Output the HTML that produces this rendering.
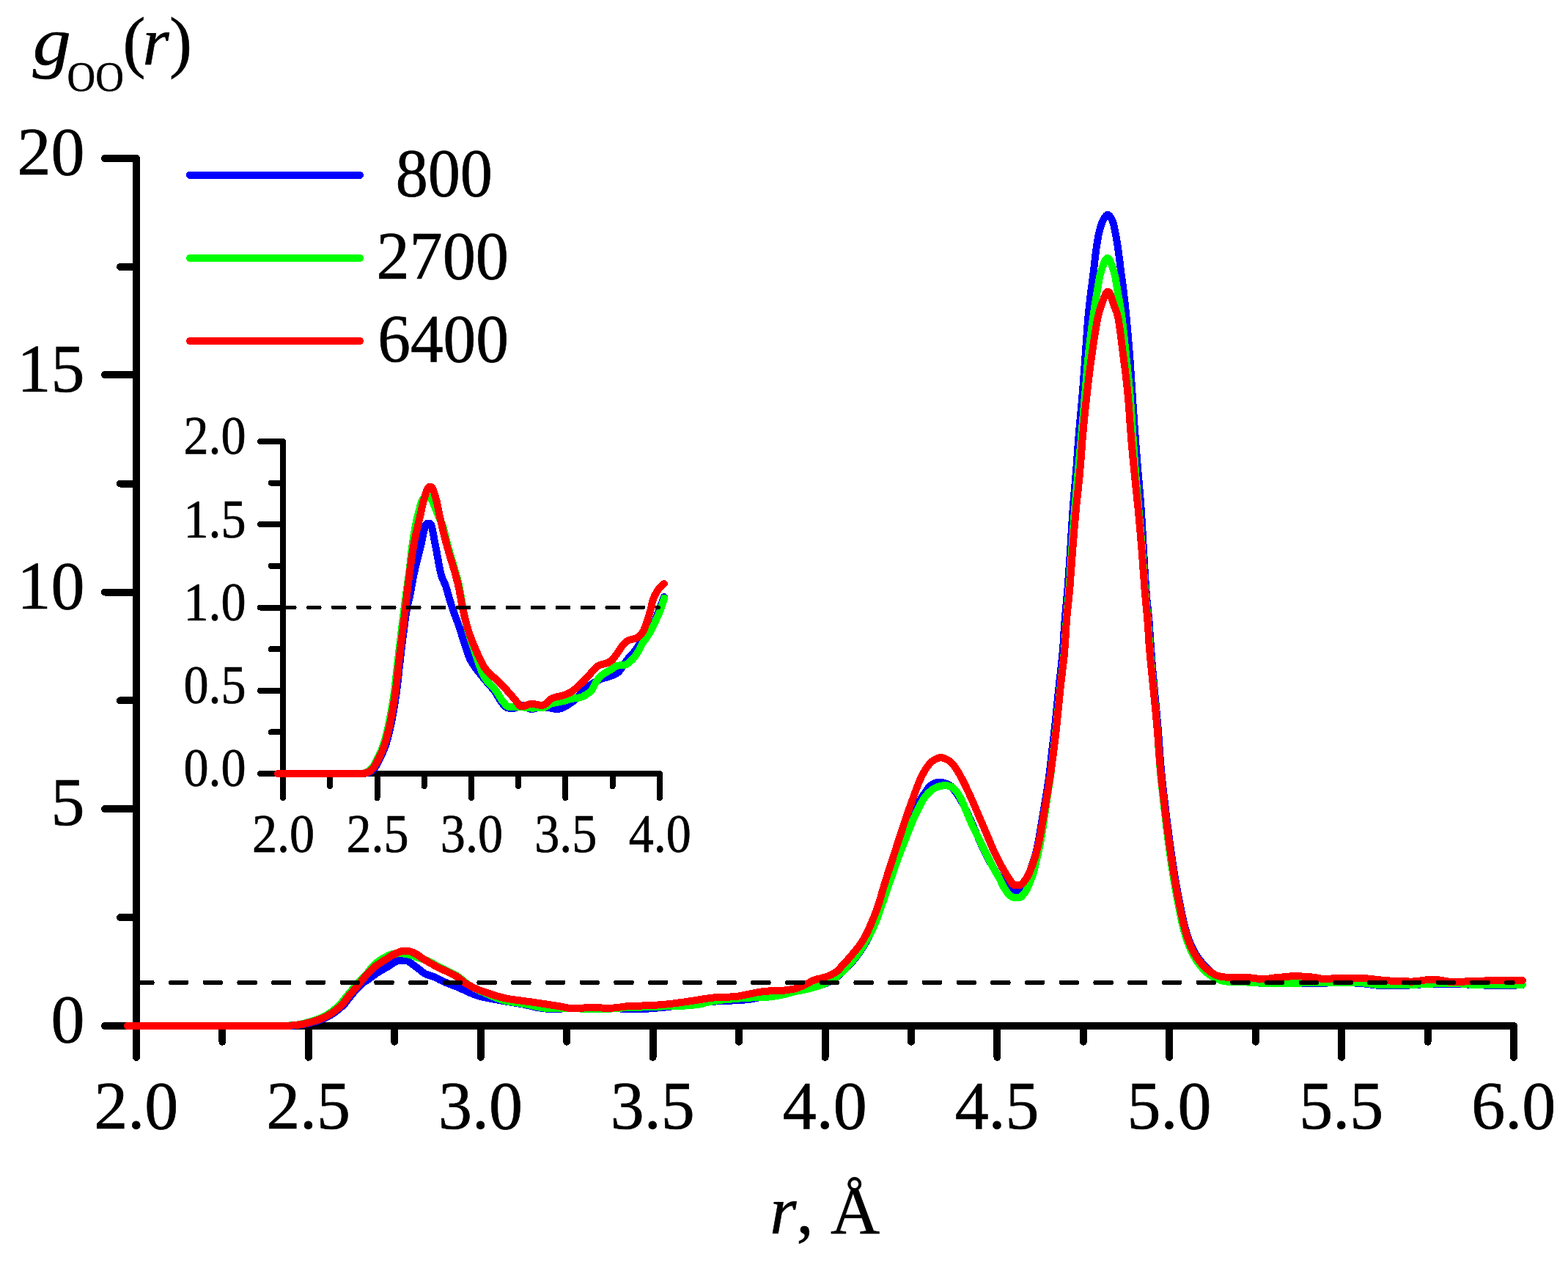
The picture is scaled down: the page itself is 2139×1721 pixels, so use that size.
<!DOCTYPE html>
<html lang="en"><head><meta charset="utf-8"><title>g_OO(r)</title>
<style>html,body{margin:0;padding:0;background:#fff;width:2139px;height:1721px;overflow:hidden}svg{display:block}text{font-family:'Liberation Serif', serif;fill:#000}.i{font-style:italic}</style></head><body>
<svg width="2139" height="1721" viewBox="0 0 2139 1721">
<rect width="2139" height="1721" fill="#fff"/>
<g stroke="#000" stroke-width="10" stroke-linecap="round" fill="none" shape-rendering="crispEdges">
<path d="M186 216 V1441.8"/>
<path d="M143 1399 H2065"/>
<path d="M164 1251.1 H186"/>
<path d="M143 1103.2 H186"/>
<path d="M164 955.4 H186"/>
<path d="M143 807.5 H186"/>
<path d="M164 659.6 H186"/>
<path d="M143 511 H186"/>
<path d="M164 363.9 H186"/>
<path d="M143 216 H186"/>
<path d="M303.4 1399 V1420.7"/>
<path d="M420.9 1399 V1441.8"/>
<path d="M538.3 1399 V1420.7"/>
<path d="M655.8 1399 V1441.8"/>
<path d="M773.2 1399 V1420.7"/>
<path d="M890.6 1399 V1441.8"/>
<path d="M1008.1 1399 V1420.7"/>
<path d="M1125.5 1399 V1441.8"/>
<path d="M1242.9 1399 V1420.7"/>
<path d="M1360.4 1399 V1441.8"/>
<path d="M1477.8 1399 V1420.7"/>
<path d="M1595.2 1399 V1441.8"/>
<path d="M1712.7 1399 V1420.7"/>
<path d="M1830.1 1399 V1441.8"/>
<path d="M1947.6 1399 V1420.7"/>
<path d="M2065 1399 V1441.8"/>
</g>
<g stroke="#000" stroke-width="8" stroke-linecap="round" fill="none" shape-rendering="crispEdges">
<path d="M386 602 V1088"/>
<path d="M355 1055 H899.8"/>
<path d="M369.8 998.4 H386"/>
<path d="M355 941.8 H386"/>
<path d="M369.8 885.1 H386"/>
<path d="M355 828.5 H386"/>
<path d="M369.8 771.9 H386"/>
<path d="M355 715.2 H386"/>
<path d="M369.8 658.6 H386"/>
<path d="M355 602 H386"/>
<path d="M450.2 1055 V1072"/>
<path d="M514.5 1055 V1088"/>
<path d="M578.7 1055 V1072"/>
<path d="M642.9 1055 V1088"/>
<path d="M707.1 1055 V1072"/>
<path d="M771.3 1055 V1088"/>
<path d="M835.6 1055 V1072"/>
<path d="M899.8 1055 V1088"/>
</g>
<g id="main-curves">
<path d="M174 1399 L175.5 1399 L177 1399 L178.5 1399 L180 1399 L181.5 1399 L183 1399 L184.5 1399 L186 1399 L187.5 1399 L189 1399 L190.5 1399 L192 1399 L193.5 1399 L195 1399 L196.5 1399 L198 1399 L199.5 1399 L201 1399 L202.5 1399 L204 1399 L205.5 1399 L207 1399 L208.5 1399 L210 1399 L211.5 1399 L213 1399 L214.5 1399 L216 1399 L217.5 1399 L219 1399 L220.5 1399 L222 1399 L223.5 1399 L225 1399 L226.5 1399 L228 1399 L229.5 1399 L231 1399 L232.5 1399 L234 1399 L235.5 1399 L237 1399 L238.5 1399 L240 1399 L241.5 1399 L243 1399 L244.5 1399 L246 1399 L247.5 1399 L249 1399 L250.5 1399 L252 1399 L253.5 1399 L255 1399 L256.5 1399 L258 1399 L259.5 1399 L261 1399 L262.5 1399 L264 1399 L265.5 1399 L267 1399 L268.5 1399 L270 1399 L271.5 1399 L273 1399 L274.5 1399 L276 1399 L277.5 1399 L279 1399 L280.5 1399 L282 1399 L283.5 1399 L285 1399 L286.5 1399 L288 1399 L289.5 1399 L291 1399 L292.5 1399 L294 1399 L295.5 1399 L297 1399 L298.5 1399 L300 1399 L301.5 1399 L303 1399 L304.5 1399 L306 1399 L307.5 1399 L309 1399 L310.5 1399 L312 1399 L313.5 1399 L315 1399 L316.5 1399 L318 1399 L319.5 1399 L321 1399 L322.5 1399 L324 1399 L325.5 1399 L327 1399 L328.5 1399 L330 1399 L331.5 1399 L333 1399 L334.5 1399 L336 1399 L337.5 1399 L339 1399 L340.5 1399 L342 1399 L343.5 1399 L345 1399 L346.5 1399 L348 1399 L349.5 1399 L351 1399 L352.5 1399 L354 1399 L355.5 1399 L357 1399 L358.5 1399 L360 1399 L361.5 1399 L363 1399 L364.5 1399 L366 1399 L367.5 1399 L369 1399 L370.5 1399 L372 1399 L373.5 1399 L375 1399 L376.5 1399 L378 1399 L379.5 1399 L381 1399 L382.5 1399 L384 1398.9 L385.5 1398.9 L387 1398.9 L388.5 1398.9 L390 1398.9 L391.5 1398.9 L393 1398.9 L394.5 1398.9 L396 1398.8 L397.5 1398.7 L399 1398.7 L400.5 1398.6 L402 1398.5 L403.5 1398.3 L405 1398.2 L406.5 1398.1 L408 1397.9 L409.5 1397.7 L411 1397.5 L412.5 1397.3 L414 1397.1 L415.5 1396.8 L417 1396.5 L418.5 1396.3 L420 1395.9 L421.5 1395.5 L423 1395.1 L424.5 1394.7 L426 1394.2 L427.5 1393.8 L429 1393.4 L430.5 1392.9 L432 1392.5 L433.5 1392 L435 1391.5 L436.5 1391 L438 1390.5 L439.5 1389.9 L441 1389.3 L442.5 1388.7 L444 1388 L445.5 1387.3 L447 1386.6 L448.5 1385.8 L450 1385 L451.5 1384.1 L453 1383.1 L454.5 1382.1 L456 1381.1 L457.5 1380.1 L459 1378.9 L460.5 1377.7 L462 1376.5 L463.5 1375.2 L465 1373.9 L466.5 1372.6 L468 1371.2 L469.5 1369.7 L471 1368 L472.5 1366.1 L474 1364.1 L475.5 1362.1 L477 1360.2 L478.5 1358.4 L480 1356.5 L481.5 1354.7 L483 1352.9 L484.5 1351.2 L486 1349.6 L487.5 1347.9 L489 1346.3 L490.5 1344.7 L492 1343.1 L493.5 1341.7 L495 1340.4 L496.5 1339.3 L498 1338.4 L499.5 1337.6 L501 1336.7 L502.5 1335.7 L504 1334.6 L505.5 1333.5 L507 1332.3 L508.5 1331.1 L510 1329.9 L511.5 1328.8 L513 1327.8 L514.5 1326.8 L516 1325.9 L517.5 1324.9 L519 1324 L520.5 1323.1 L522 1322.2 L523.5 1321.4 L525 1320.5 L526.5 1319.6 L528 1318.8 L529.5 1318 L531 1317.1 L532.5 1316.1 L534 1315.1 L535.5 1314 L537 1313 L538.5 1312 L540 1311.2 L541.5 1310.6 L543 1310.1 L544.5 1310 L546 1310 L547.5 1310 L549 1310 L550.5 1310 L552 1310 L553.5 1310 L555 1310.2 L556.5 1310.7 L558 1311.5 L559.5 1312.5 L561 1313.7 L562.5 1314.9 L564 1316.1 L565.5 1317.2 L567 1318.2 L568.5 1319.3 L570 1320.5 L571.5 1321.7 L573 1322.9 L574.5 1324.1 L576 1325.2 L577.5 1326.3 L579 1327.3 L580.5 1328.1 L582 1328.8 L583.5 1329.4 L585 1329.9 L586.5 1330.4 L588 1330.8 L589.5 1331.3 L591 1331.8 L592.5 1332.4 L594 1333.1 L595.5 1333.8 L597 1334.6 L598.5 1335.4 L600 1336.2 L601.5 1336.9 L603 1337.6 L604.5 1338.3 L606 1338.9 L607.5 1339.6 L609 1340.2 L610.5 1340.8 L612 1341.4 L613.5 1342 L615 1342.6 L616.5 1343.2 L618 1343.8 L619.5 1344.3 L621 1344.9 L622.5 1345.5 L624 1346.1 L625.5 1346.7 L627 1347.4 L628.5 1348 L630 1348.7 L631.5 1349.4 L633 1350.1 L634.5 1350.8 L636 1351.5 L637.5 1352.2 L639 1352.8 L640.5 1353.5 L642 1354.2 L643.5 1354.8 L645 1355.4 L646.5 1356 L648 1356.6 L649.5 1357.2 L651 1357.7 L652.5 1358.2 L654 1358.6 L655.5 1359 L657 1359.3 L658.5 1359.7 L660 1360 L661.5 1360.4 L663 1360.7 L664.5 1361 L666 1361.3 L667.5 1361.6 L669 1361.9 L670.5 1362.2 L672 1362.4 L673.5 1362.7 L675 1363 L676.5 1363.2 L678 1363.5 L679.5 1363.8 L681 1364 L682.5 1364.3 L684 1364.6 L685.5 1364.8 L687 1365.1 L688.5 1365.4 L690 1365.6 L691.5 1365.9 L693 1366.1 L694.5 1366.4 L696 1366.6 L697.5 1366.9 L699 1367.1 L700.5 1367.3 L702 1367.6 L703.5 1367.8 L705 1368.1 L706.5 1368.3 L708 1368.6 L709.5 1368.8 L711 1369.1 L712.5 1369.4 L714 1369.7 L715.5 1370 L717 1370.3 L718.5 1370.6 L720 1371 L721.5 1371.3 L723 1371.7 L724.5 1372.1 L726 1372.5 L727.5 1372.8 L729 1373.2 L730.5 1373.5 L732 1373.8 L733.5 1374 L735 1374.3 L736.5 1374.5 L738 1374.7 L739.5 1374.9 L741 1375.1 L742.5 1375.3 L744 1375.4 L745.5 1375.6 L747 1375.6 L748.5 1375.6 L750 1375.7 L751.5 1375.7 L753 1375.7 L754.5 1375.7 L756 1375.7 L757.5 1375.8 L759 1375.8 L760.5 1375.8 L762 1375.7 L763.5 1375.7 L765 1375.6 L766.5 1375.5 L768 1375.4 L769.5 1375.3 L771 1375.2 L772.5 1375.1 L774 1375 L775.5 1374.9 L777 1374.8 L778.5 1374.8 L780 1374.7 L781.5 1374.7 L783 1374.7 L784.5 1374.8 L786 1374.8 L787.5 1374.9 L789 1375 L790.5 1375.1 L792 1375.2 L793.5 1375.3 L795 1375.4 L796.5 1375.6 L798 1375.7 L799.5 1375.8 L801 1375.8 L802.5 1375.9 L804 1376 L805.5 1376 L807 1376 L808.5 1376 L810 1376 L811.5 1375.9 L813 1375.9 L814.5 1375.8 L816 1375.8 L817.5 1375.7 L819 1375.6 L820.5 1375.6 L822 1375.5 L823.5 1375.5 L825 1375.4 L826.5 1375.4 L828 1375.3 L829.5 1375.3 L831 1375.3 L832.5 1375.3 L834 1375.3 L835.5 1375.3 L837 1375.3 L838.5 1375.3 L840 1375.3 L841.5 1375.4 L843 1375.4 L844.5 1375.4 L846 1375.5 L847.5 1375.5 L849 1375.6 L850.5 1375.6 L852 1375.6 L853.5 1375.7 L855 1375.7 L856.5 1375.8 L858 1375.8 L859.5 1375.8 L861 1375.9 L862.5 1375.9 L864 1375.9 L865.5 1376 L867 1376 L868.5 1376 L870 1376 L871.5 1376 L873 1376 L874.5 1376 L876 1375.9 L877.5 1375.9 L879 1375.8 L880.5 1375.7 L882 1375.7 L883.5 1375.6 L885 1375.5 L886.5 1375.4 L888 1375.3 L889.5 1375.1 L891 1375 L892.5 1374.9 L894 1374.8 L895.5 1374.6 L897 1374.5 L898.5 1374.4 L900 1374.2 L901.5 1374.1 L903 1373.9 L904.5 1373.8 L906 1373.7 L907.5 1373.5 L909 1373.4 L910.5 1373.2 L912 1373 L913.5 1372.8 L915 1372.6 L916.5 1372.4 L918 1372.2 L919.5 1371.9 L921 1371.7 L922.5 1371.5 L924 1371.2 L925.5 1371 L927 1370.7 L928.5 1370.5 L930 1370.3 L931.5 1370.1 L933 1369.9 L934.5 1369.7 L936 1369.5 L937.5 1369.3 L939 1369.1 L940.5 1368.9 L942 1368.7 L943.5 1368.5 L945 1368.3 L946.5 1368.1 L948 1368 L949.5 1367.8 L951 1367.7 L952.5 1367.5 L954 1367.4 L955.5 1367.2 L957 1367.1 L958.5 1366.9 L960 1366.8 L961.5 1366.6 L963 1366.5 L964.5 1366.4 L966 1366.3 L967.5 1366.2 L969 1366 L970.5 1365.9 L972 1365.8 L973.5 1365.7 L975 1365.6 L976.5 1365.5 L978 1365.4 L979.5 1365.3 L981 1365.2 L982.5 1365.2 L984 1365.1 L985.5 1365 L987 1365 L988.5 1364.9 L990 1364.8 L991.5 1364.8 L993 1364.7 L994.5 1364.7 L996 1364.6 L997.5 1364.5 L999 1364.5 L1000.5 1364.4 L1002 1364.3 L1003.5 1364.3 L1005 1364.2 L1006.5 1364.1 L1008 1364 L1009.5 1363.9 L1011 1363.8 L1012.5 1363.7 L1014 1363.6 L1015.5 1363.5 L1017 1363.4 L1018.5 1363.3 L1020 1363.1 L1021.5 1363 L1023 1362.8 L1024.5 1362.6 L1026 1362.3 L1027.5 1362 L1029 1361.7 L1030.5 1361.4 L1032 1361.1 L1033.5 1360.8 L1035 1360.5 L1036.5 1360.2 L1038 1359.9 L1039.5 1359.6 L1041 1359.3 L1042.5 1358.9 L1044 1358.6 L1045.5 1358.3 L1047 1358 L1048.5 1357.8 L1050 1357.5 L1051.5 1357.3 L1053 1357.1 L1054.5 1356.8 L1056 1356.6 L1057.5 1356.4 L1059 1356.1 L1060.5 1355.9 L1062 1355.6 L1063.5 1355.3 L1065 1355.1 L1066.5 1354.7 L1068 1354.4 L1069.5 1354.1 L1071 1353.8 L1072.5 1353.5 L1074 1353.1 L1075.5 1352.8 L1077 1352.5 L1078.5 1352.2 L1080 1351.9 L1081.5 1351.7 L1083 1351.4 L1084.5 1351.1 L1086 1350.9 L1087.5 1350.6 L1089 1350.4 L1090.5 1350.1 L1092 1349.9 L1093.5 1349.6 L1095 1349.3 L1096.5 1349 L1098 1348.7 L1099.5 1348.4 L1101 1348 L1102.5 1347.6 L1104 1347.2 L1105.5 1346.8 L1107 1346.4 L1108.5 1346 L1110 1345.5 L1111.5 1345.1 L1113 1344.7 L1114.5 1344.3 L1116 1343.9 L1117.5 1343.5 L1119 1343.1 L1120.5 1342.7 L1122 1342.3 L1123.5 1341.9 L1125 1341.4 L1126.5 1340.9 L1128 1340.4 L1129.5 1339.8 L1131 1339.1 L1132.5 1338.3 L1134 1337.5 L1135.5 1336.6 L1137 1335.6 L1138.5 1334.6 L1140 1333.6 L1141.5 1332.5 L1143 1331.3 L1144.5 1330 L1146 1328.6 L1147.5 1327.2 L1149 1325.7 L1150.5 1324.3 L1152 1322.8 L1153.5 1321.3 L1155 1319.8 L1156.5 1318.3 L1158 1316.7 L1159.5 1315.1 L1161 1313.5 L1162.5 1311.8 L1164 1310 L1165.5 1308.2 L1167 1306.3 L1168.5 1304.3 L1170 1302.2 L1171.5 1300.1 L1173 1298 L1174.5 1295.7 L1176 1293.5 L1177.5 1291.2 L1179 1288.8 L1180.5 1286.3 L1182 1283.7 L1183.5 1280.9 L1185 1278.1 L1186.5 1275 L1188 1271.7 L1189.5 1268.4 L1191 1264.9 L1192.5 1261.2 L1194 1257.5 L1195.5 1253.6 L1197 1249.5 L1198.5 1245.3 L1200 1241 L1201.5 1236.6 L1203 1232.1 L1204.5 1227.4 L1206 1222.8 L1207.5 1218.3 L1209 1213.9 L1210.5 1209.6 L1212 1205.2 L1213.5 1200.9 L1215 1196.6 L1216.5 1192.2 L1218 1187.8 L1219.5 1183.3 L1221 1178.9 L1222.5 1174.6 L1224 1170.4 L1225.5 1166.3 L1227 1162.3 L1228.5 1158.4 L1230 1154.5 L1231.5 1150.6 L1233 1146.8 L1234.5 1142.9 L1236 1139 L1237.5 1135.1 L1239 1131.2 L1240.5 1127.3 L1242 1123.5 L1243.5 1119.8 L1245 1116.1 L1246.5 1112.5 L1248 1108.7 L1249.5 1104.8 L1251 1100.8 L1252.5 1096.9 L1254 1093.5 L1255.5 1090.7 L1257 1088.2 L1258.5 1086 L1260 1083.8 L1261.5 1081.7 L1263 1079.5 L1264.5 1077.2 L1266 1075.1 L1267.5 1073.2 L1269 1071.7 L1270.5 1070.7 L1272 1069.8 L1273.5 1069 L1275 1068.3 L1276.5 1067.6 L1278 1067.1 L1279.5 1066.7 L1281 1066.5 L1282.5 1066.5 L1284 1066.6 L1285.5 1066.9 L1287 1067.3 L1288.5 1067.7 L1290 1068.3 L1291.5 1068.9 L1293 1069.5 L1294.5 1070.3 L1296 1071.1 L1297.5 1072.3 L1299 1073.9 L1300.5 1075.8 L1302 1077.8 L1303.5 1079.9 L1305 1082 L1306.5 1084.1 L1308 1086.5 L1309.5 1088.9 L1311 1091.5 L1312.5 1094.2 L1314 1097 L1315.5 1099.9 L1317 1102.9 L1318.5 1106.1 L1320 1109.4 L1321.5 1112.7 L1323 1116 L1324.5 1119.4 L1326 1122.8 L1327.5 1126.3 L1329 1129.8 L1330.5 1133.3 L1332 1136.7 L1333.5 1140.1 L1335 1143.5 L1336.5 1146.9 L1338 1150.2 L1339.5 1153.5 L1341 1156.8 L1342.5 1159.9 L1344 1163 L1345.5 1166 L1347 1169 L1348.5 1171.8 L1350 1174.6 L1351.5 1177.4 L1353 1180 L1354.5 1182.6 L1356 1185 L1357.5 1187.5 L1359 1189.8 L1360.5 1192.1 L1362 1194.3 L1363.5 1196.4 L1365 1198.6 L1366.5 1200.6 L1368 1202.6 L1369.5 1204.4 L1371 1206 L1372.5 1207.4 L1374 1208.6 L1375.5 1209.8 L1377 1210.8 L1378.5 1211.7 L1380 1212.5 L1381.5 1213.2 L1383 1213.9 L1384.5 1214.3 L1386 1214.3 L1387.5 1214.3 L1389 1214.2 L1390.5 1212.9 L1392 1210.8 L1393.5 1208.9 L1395 1207.1 L1396.5 1205.2 L1398 1203.2 L1399.5 1200.9 L1401 1198.3 L1402.5 1195.1 L1404 1191.1 L1405.5 1186.8 L1407 1182.4 L1408.5 1178 L1410 1173.6 L1411.5 1168.8 L1413 1163.6 L1414.5 1157.5 L1416 1150.4 L1417.5 1142.5 L1419 1134 L1420.5 1124.7 L1422 1115.6 L1423.5 1106.5 L1425 1097.4 L1426.5 1088.1 L1428 1079.1 L1429.5 1069.9 L1431 1059.8 L1432.5 1047.6 L1434 1033.4 L1435.5 1020.5 L1437 1008.4 L1438.5 995.5 L1440 981.5 L1441.5 966.8 L1443 951.8 L1444.5 937.1 L1446 923.3 L1447.5 910.3 L1449 896 L1450.5 878.7 L1452 853.3 L1453.5 835 L1455 819.6 L1456.5 802 L1458 781.6 L1459.5 759.7 L1461 736.2 L1462.5 711.2 L1464 689.4 L1465.5 671.4 L1467 654.5 L1468.5 636.1 L1470 615.2 L1471.5 595.2 L1473 577.9 L1474.5 561.8 L1476 545.1 L1477.5 526.3 L1479 506 L1480.5 485.5 L1482 464.6 L1483.5 443.7 L1485 425.9 L1486.5 411.9 L1488 399.5 L1489.5 388 L1491 376.9 L1492.5 364.3 L1494 350.6 L1495.5 339.2 L1497 329.2 L1498.5 320.7 L1500 314.1 L1501.5 308.8 L1503 304.3 L1504.5 301 L1506 298.3 L1507.5 295.8 L1509 293.9 L1510.5 292.9 L1512 293.1 L1513.5 294.3 L1515 296.4 L1516.5 299 L1518 302.2 L1519.5 307.7 L1521 314.7 L1522.5 322.4 L1524 331.4 L1525.5 341.4 L1527 352.5 L1528.5 364.9 L1530 376.8 L1531.5 387.8 L1533 399.5 L1534.5 412.6 L1536 427 L1537.5 442.7 L1539 459.6 L1540.5 477.8 L1542 498 L1543.5 520.7 L1545 543.2 L1546.5 565.3 L1548 586.8 L1549.5 606.8 L1551 625.4 L1552.5 643.7 L1554 661.1 L1555.5 678.9 L1557 699 L1558.5 724.1 L1560 750.5 L1561.5 776.1 L1563 800.2 L1564.5 818.3 L1566 831.9 L1567.5 846.8 L1569 869.1 L1570.5 890.6 L1572 908.9 L1573.5 926 L1575 942.8 L1576.5 958.6 L1578 974.2 L1579.5 991 L1581 1010.8 L1582.5 1032.1 L1584 1050.5 L1585.5 1065.2 L1587 1078.5 L1588.5 1091.3 L1590 1103.8 L1591.5 1115.8 L1593 1127.7 L1594.5 1139.4 L1596 1150.7 L1597.5 1161.3 L1599 1171.7 L1600.5 1181.7 L1602 1191.2 L1603.5 1200.2 L1605 1208.8 L1606.5 1217.1 L1608 1225.1 L1609.5 1232.7 L1611 1240.1 L1612.5 1247.3 L1614 1254.1 L1615.5 1260.5 L1617 1266.1 L1618.5 1271.3 L1620 1276.1 L1621.5 1280.6 L1623 1284.6 L1624.5 1288.2 L1626 1291.5 L1627.5 1294.6 L1629 1297.5 L1630.5 1300.2 L1632 1302.7 L1633.5 1305 L1635 1307.1 L1636.5 1309 L1638 1310.9 L1639.5 1312.7 L1641 1314.4 L1642.5 1316.1 L1644 1317.7 L1645.5 1319.3 L1647 1320.9 L1648.5 1322.4 L1650 1323.8 L1651.5 1325.2 L1653 1326.5 L1654.5 1327.7 L1656 1328.9 L1657.5 1330.1 L1659 1331.1 L1660.5 1332.1 L1662 1333 L1663.5 1333.8 L1665 1334.7 L1666.5 1335.4 L1668 1336.2 L1669.5 1336.8 L1671 1337.3 L1672.5 1337.7 L1674 1337.9 L1675.5 1338.1 L1677 1338.2 L1678.5 1338.3 L1680 1338.4 L1681.5 1338.6 L1683 1338.6 L1684.5 1338.7 L1686 1338.8 L1687.5 1338.9 L1689 1339 L1690.5 1339 L1692 1339.1 L1693.5 1339.1 L1695 1339.2 L1696.5 1339.3 L1698 1339.3 L1699.5 1339.4 L1701 1339.5 L1702.5 1339.6 L1704 1339.7 L1705.5 1339.8 L1707 1339.9 L1708.5 1340 L1710 1340.1 L1711.5 1340.2 L1713 1340.3 L1714.5 1340.4 L1716 1340.4 L1717.5 1340.5 L1719 1340.6 L1720.5 1340.6 L1722 1340.6 L1723.5 1340.6 L1725 1340.6 L1726.5 1340.6 L1728 1340.6 L1729.5 1340.6 L1731 1340.6 L1732.5 1340.6 L1734 1340.6 L1735.5 1340.6 L1737 1340.6 L1738.5 1340.6 L1740 1340.6 L1741.5 1340.6 L1743 1340.6 L1744.5 1340.6 L1746 1340.6 L1747.5 1340.6 L1749 1340.6 L1750.5 1340.6 L1752 1340.6 L1753.5 1340.6 L1755 1340.6 L1756.5 1340.6 L1758 1340.6 L1759.5 1340.6 L1761 1340.6 L1762.5 1340.6 L1764 1340.6 L1765.5 1340.6 L1767 1340.6 L1768.5 1340.6 L1770 1340.6 L1771.5 1340.6 L1773 1340.6 L1774.5 1340.6 L1776 1340.6 L1777.5 1340.7 L1779 1340.7 L1780.5 1340.7 L1782 1340.7 L1783.5 1340.7 L1785 1340.7 L1786.5 1340.8 L1788 1340.8 L1789.5 1340.8 L1791 1340.8 L1792.5 1340.8 L1794 1340.8 L1795.5 1340.8 L1797 1340.8 L1798.5 1340.8 L1800 1340.8 L1801.5 1340.7 L1803 1340.7 L1804.5 1340.7 L1806 1340.6 L1807.5 1340.6 L1809 1340.5 L1810.5 1340.5 L1812 1340.4 L1813.5 1340.4 L1815 1340.3 L1816.5 1340.3 L1818 1340.2 L1819.5 1340.2 L1821 1340.1 L1822.5 1340.1 L1824 1340.1 L1825.5 1340 L1827 1340 L1828.5 1340 L1830 1340 L1831.5 1340 L1833 1340 L1834.5 1340 L1836 1340.1 L1837.5 1340.1 L1839 1340.1 L1840.5 1340.2 L1842 1340.2 L1843.5 1340.3 L1845 1340.4 L1846.5 1340.4 L1848 1340.5 L1849.5 1340.5 L1851 1340.6 L1852.5 1340.7 L1854 1340.8 L1855.5 1340.9 L1857 1341 L1858.5 1341.2 L1860 1341.3 L1861.5 1341.5 L1863 1341.7 L1864.5 1341.9 L1866 1342.1 L1867.5 1342.3 L1869 1342.5 L1870.5 1342.7 L1872 1342.9 L1873.5 1343.1 L1875 1343.3 L1876.5 1343.4 L1878 1343.6 L1879.5 1343.7 L1881 1343.9 L1882.5 1344 L1884 1344.1 L1885.5 1344.1 L1887 1344.2 L1888.5 1344.2 L1890 1344.2 L1891.5 1344.2 L1893 1344.2 L1894.5 1344.2 L1896 1344.2 L1897.5 1344.1 L1899 1344.1 L1900.5 1344.1 L1902 1344.1 L1903.5 1344 L1905 1344 L1906.5 1344 L1908 1343.9 L1909.5 1343.9 L1911 1343.9 L1912.5 1343.8 L1914 1343.8 L1915.5 1343.7 L1917 1343.7 L1918.5 1343.6 L1920 1343.6 L1921.5 1343.5 L1923 1343.5 L1924.5 1343.4 L1926 1343.4 L1927.5 1343.3 L1929 1343.3 L1930.5 1343.2 L1932 1343.1 L1933.5 1342.9 L1935 1342.8 L1936.5 1342.7 L1938 1342.5 L1939.5 1342.4 L1941 1342.2 L1942.5 1342.1 L1944 1342 L1945.5 1341.9 L1947 1341.8 L1948.5 1341.7 L1950 1341.6 L1951.5 1341.5 L1953 1341.5 L1954.5 1341.5 L1956 1341.5 L1957.5 1341.5 L1959 1341.5 L1960.5 1341.5 L1962 1341.5 L1963.5 1341.5 L1965 1341.5 L1966.5 1341.5 L1968 1341.5 L1969.5 1341.5 L1971 1341.5 L1972.5 1341.5 L1974 1341.6 L1975.5 1341.6 L1977 1341.6 L1978.5 1341.6 L1980 1341.6 L1981.5 1341.6 L1983 1341.6 L1984.5 1341.6 L1986 1341.7 L1987.5 1341.7 L1989 1341.8 L1990.5 1341.8 L1992 1341.9 L1993.5 1342 L1995 1342.1 L1996.5 1342.2 L1998 1342.3 L1999.5 1342.4 L2001 1342.5 L2002.5 1342.6 L2004 1342.7 L2005.5 1342.8 L2007 1342.9 L2008.5 1342.9 L2010 1343 L2011.5 1343.1 L2013 1343.2 L2014.5 1343.3 L2016 1343.3 L2017.5 1343.4 L2019 1343.4 L2020.5 1343.4 L2022 1343.4 L2023.5 1343.5 L2025 1343.5 L2026.5 1343.5 L2028 1343.5 L2029.5 1343.6 L2031 1343.6 L2032.5 1343.6 L2034 1343.6 L2035.5 1343.6 L2037 1343.7 L2038.5 1343.7 L2040 1343.7 L2041.5 1343.7 L2043 1343.7 L2044.5 1343.7 L2046 1343.8 L2047.5 1343.8 L2049 1343.8 L2050.5 1343.8 L2052 1343.8 L2053.5 1343.8 L2055 1343.8 L2056.5 1343.8 L2058 1343.8 L2059.5 1343.8 L2061 1343.8 L2062.5 1343.7 L2064 1343.7 L2065.5 1343.6 L2067 1343.5 L2068.5 1343.5 L2070 1343.4 L2071.5 1343.3 L2073 1343.2 L2074.5 1343.1 L2076 1343.1 L2076.9 1343" fill="none" stroke="#0000ff" stroke-width="10" stroke-linejoin="round" stroke-linecap="round" shape-rendering="crispEdges"/>
<path d="M174 1399 L175.5 1399 L177 1399 L178.5 1399 L180 1399 L181.5 1399 L183 1399 L184.5 1399 L186 1399 L187.5 1399 L189 1399 L190.5 1399 L192 1399 L193.5 1399 L195 1399 L196.5 1399 L198 1399 L199.5 1399 L201 1399 L202.5 1399 L204 1399 L205.5 1399 L207 1399 L208.5 1399 L210 1399 L211.5 1399 L213 1399 L214.5 1399 L216 1399 L217.5 1399 L219 1399 L220.5 1399 L222 1399 L223.5 1399 L225 1399 L226.5 1399 L228 1399 L229.5 1399 L231 1399 L232.5 1399 L234 1399 L235.5 1399 L237 1399 L238.5 1399 L240 1399 L241.5 1399 L243 1399 L244.5 1399 L246 1399 L247.5 1399 L249 1399 L250.5 1399 L252 1399 L253.5 1399 L255 1399 L256.5 1399 L258 1399 L259.5 1399 L261 1399 L262.5 1399 L264 1399 L265.5 1399 L267 1399 L268.5 1399 L270 1399 L271.5 1399 L273 1399 L274.5 1399 L276 1399 L277.5 1399 L279 1399 L280.5 1399 L282 1399 L283.5 1399 L285 1399 L286.5 1399 L288 1399 L289.5 1399 L291 1399 L292.5 1399 L294 1399 L295.5 1399 L297 1399 L298.5 1399 L300 1399 L301.5 1399 L303 1399 L304.5 1399 L306 1399 L307.5 1399 L309 1399 L310.5 1399 L312 1399 L313.5 1399 L315 1399 L316.5 1399 L318 1399 L319.5 1399 L321 1399 L322.5 1399 L324 1399 L325.5 1399 L327 1399 L328.5 1399 L330 1399 L331.5 1399 L333 1399 L334.5 1399 L336 1399 L337.5 1399 L339 1399 L340.5 1399 L342 1399 L343.5 1399 L345 1399 L346.5 1399 L348 1399 L349.5 1399 L351 1399 L352.5 1399 L354 1399 L355.5 1399 L357 1399 L358.5 1399 L360 1399 L361.5 1399 L363 1399 L364.5 1399 L366 1399 L367.5 1399 L369 1399 L370.5 1399 L372 1399 L373.5 1399 L375 1399 L376.5 1399 L378 1398.9 L379.5 1398.9 L381 1398.9 L382.5 1398.9 L384 1398.9 L385.5 1398.9 L387 1398.9 L388.5 1398.8 L390 1398.8 L391.5 1398.7 L393 1398.6 L394.5 1398.5 L396 1398.4 L397.5 1398.3 L399 1398.2 L400.5 1398.1 L402 1397.9 L403.5 1397.7 L405 1397.5 L406.5 1397.3 L408 1397 L409.5 1396.8 L411 1396.5 L412.5 1396.2 L414 1395.9 L415.5 1395.5 L417 1395.1 L418.5 1394.6 L420 1394.2 L421.5 1393.8 L423 1393.4 L424.5 1392.9 L426 1392.5 L427.5 1392 L429 1391.5 L430.5 1391 L432 1390.5 L433.5 1389.9 L435 1389.4 L436.5 1388.7 L438 1388.1 L439.5 1387.4 L441 1386.7 L442.5 1385.9 L444 1385.1 L445.5 1384.2 L447 1383.3 L448.5 1382.3 L450 1381.3 L451.5 1380.3 L453 1379.2 L454.5 1378.1 L456 1376.9 L457.5 1375.6 L459 1374.3 L460.5 1373 L462 1371.7 L463.5 1370.2 L465 1368.6 L466.5 1366.8 L468 1364.8 L469.5 1362.8 L471 1360.9 L472.5 1359 L474 1357.2 L475.5 1355.4 L477 1353.6 L478.5 1351.9 L480 1350.1 L481.5 1348.3 L483 1346.6 L484.5 1344.8 L486 1343.1 L487.5 1341.4 L489 1339.7 L490.5 1338 L492 1336.4 L493.5 1334.8 L495 1333.2 L496.5 1331.7 L498 1330.3 L499.5 1328.9 L501 1327.3 L502.5 1325.4 L504 1323.4 L505.5 1321.3 L507 1319.4 L508.5 1317.7 L510 1316.3 L511.5 1314.9 L513 1313.6 L514.5 1312.4 L516 1311.2 L517.5 1310.1 L519 1309.1 L520.5 1308.1 L522 1307.2 L523.5 1306.4 L525 1305.6 L526.5 1304.8 L528 1304 L529.5 1303 L531 1302.3 L532.5 1301.8 L534 1301.5 L535.5 1301.2 L537 1301 L538.5 1300.8 L540 1300.7 L541.5 1300.5 L543 1300.4 L544.5 1300.3 L546 1300.3 L547.5 1300.3 L549 1300.4 L550.5 1300.5 L552 1300.7 L553.5 1300.9 L555 1301.1 L556.5 1301.4 L558 1301.8 L559.5 1302.2 L561 1302.7 L562.5 1303.2 L564 1303.7 L565.5 1304.2 L567 1304.8 L568.5 1305.3 L570 1305.9 L571.5 1306.4 L573 1307 L574.5 1307.5 L576 1308 L577.5 1308.4 L579 1308.8 L580.5 1309.2 L582 1309.7 L583.5 1310.2 L585 1310.9 L586.5 1311.6 L588 1312.5 L589.5 1313.4 L591 1314.3 L592.5 1315.2 L594 1316.1 L595.5 1317 L597 1317.8 L598.5 1318.5 L600 1319.3 L601.5 1320 L603 1320.7 L604.5 1321.5 L606 1322.2 L607.5 1322.9 L609 1323.6 L610.5 1324.3 L612 1325.1 L613.5 1325.8 L615 1326.5 L616.5 1327.3 L618 1328.1 L619.5 1328.9 L621 1329.7 L622.5 1330.5 L624 1331.3 L625.5 1332.2 L627 1333.3 L628.5 1334.5 L630 1335.9 L631.5 1337.2 L633 1338.5 L634.5 1339.7 L636 1340.8 L637.5 1341.8 L639 1342.9 L640.5 1343.9 L642 1344.8 L643.5 1345.7 L645 1346.6 L646.5 1347.4 L648 1348.2 L649.5 1348.9 L651 1349.6 L652.5 1350.3 L654 1351 L655.5 1351.7 L657 1352.3 L658.5 1352.9 L660 1353.6 L661.5 1354.2 L663 1354.8 L664.5 1355.5 L666 1356.1 L667.5 1356.8 L669 1357.4 L670.5 1358.1 L672 1358.7 L673.5 1359.4 L675 1360 L676.5 1360.6 L678 1361.2 L679.5 1361.8 L681 1362.3 L682.5 1362.8 L684 1363.3 L685.5 1363.8 L687 1364.2 L688.5 1364.6 L690 1364.9 L691.5 1365.3 L693 1365.6 L694.5 1365.8 L696 1366.1 L697.5 1366.4 L699 1366.6 L700.5 1366.8 L702 1367.1 L703.5 1367.3 L705 1367.5 L706.5 1367.7 L708 1367.9 L709.5 1368.2 L711 1368.4 L712.5 1368.6 L714 1368.9 L715.5 1369.1 L717 1369.4 L718.5 1369.7 L720 1370 L721.5 1370.4 L723 1370.7 L724.5 1371.1 L726 1371.4 L727.5 1371.8 L729 1372.1 L730.5 1372.5 L732 1372.8 L733.5 1373.1 L735 1373.4 L736.5 1373.6 L738 1373.9 L739.5 1374.1 L741 1374.3 L742.5 1374.6 L744 1374.8 L745.5 1375 L747 1375.1 L748.5 1375.2 L750 1375.3 L751.5 1375.3 L753 1375.3 L754.5 1375.3 L756 1375.3 L757.5 1375.3 L759 1375.3 L760.5 1375.3 L762 1375.3 L763.5 1375.3 L765 1375.3 L766.5 1375.3 L768 1375.3 L769.5 1375.3 L771 1375.3 L772.5 1375.3 L774 1375.3 L775.5 1375.3 L777 1375.3 L778.5 1375.3 L780 1375.3 L781.5 1375.3 L783 1375.3 L784.5 1375.4 L786 1375.4 L787.5 1375.4 L789 1375.4 L790.5 1375.5 L792 1375.5 L793.5 1375.5 L795 1375.5 L796.5 1375.5 L798 1375.6 L799.5 1375.6 L801 1375.6 L802.5 1375.6 L804 1375.6 L805.5 1375.6 L807 1375.6 L808.5 1375.6 L810 1375.6 L811.5 1375.6 L813 1375.6 L814.5 1375.6 L816 1375.6 L817.5 1375.6 L819 1375.6 L820.5 1375.6 L822 1375.6 L823.5 1375.6 L825 1375.6 L826.5 1375.5 L828 1375.5 L829.5 1375.5 L831 1375.5 L832.5 1375.5 L834 1375.5 L835.5 1375.4 L837 1375.4 L838.5 1375.3 L840 1375.2 L841.5 1375.1 L843 1375 L844.5 1374.9 L846 1374.8 L847.5 1374.7 L849 1374.5 L850.5 1374.4 L852 1374.3 L853.5 1374.2 L855 1374.1 L856.5 1374 L858 1374 L859.5 1373.9 L861 1373.9 L862.5 1373.8 L864 1373.8 L865.5 1373.7 L867 1373.7 L868.5 1373.6 L870 1373.6 L871.5 1373.6 L873 1373.5 L874.5 1373.5 L876 1373.5 L877.5 1373.4 L879 1373.4 L880.5 1373.3 L882 1373.3 L883.5 1373.3 L885 1373.2 L886.5 1373.1 L888 1373.1 L889.5 1373 L891 1373 L892.5 1372.9 L894 1372.8 L895.5 1372.8 L897 1372.7 L898.5 1372.7 L900 1372.6 L901.5 1372.5 L903 1372.5 L904.5 1372.4 L906 1372.4 L907.5 1372.3 L909 1372.3 L910.5 1372.3 L912 1372.2 L913.5 1372.2 L915 1372.2 L916.5 1372.1 L918 1372.1 L919.5 1372.1 L921 1372 L922.5 1372 L924 1372 L925.5 1371.9 L927 1371.9 L928.5 1371.8 L930 1371.8 L931.5 1371.7 L933 1371.6 L934.5 1371.5 L936 1371.4 L937.5 1371.3 L939 1371.1 L940.5 1371 L942 1370.9 L943.5 1370.8 L945 1370.6 L946.5 1370.5 L948 1370.3 L949.5 1370.2 L951 1370 L952.5 1369.8 L954 1369.6 L955.5 1369.4 L957 1369.1 L958.5 1368.7 L960 1368.3 L961.5 1367.8 L963 1367.4 L964.5 1367 L966 1366.7 L967.5 1366.3 L969 1366 L970.5 1365.7 L972 1365.4 L973.5 1365.1 L975 1364.8 L976.5 1364.6 L978 1364.4 L979.5 1364.2 L981 1364 L982.5 1363.9 L984 1363.7 L985.5 1363.5 L987 1363.4 L988.5 1363.3 L990 1363.1 L991.5 1363 L993 1362.9 L994.5 1362.7 L996 1362.6 L997.5 1362.5 L999 1362.4 L1000.5 1362.2 L1002 1362.1 L1003.5 1362 L1005 1361.8 L1006.5 1361.7 L1008 1361.6 L1009.5 1361.4 L1011 1361.3 L1012.5 1361.1 L1014 1361 L1015.5 1360.8 L1017 1360.7 L1018.5 1360.6 L1020 1360.6 L1021.5 1360.5 L1023 1360.5 L1024.5 1360.5 L1026 1360.4 L1027.5 1360.4 L1029 1360.4 L1030.5 1360.4 L1032 1360.4 L1033.5 1360.4 L1035 1360.4 L1036.5 1360.4 L1038 1360.3 L1039.5 1360.3 L1041 1360.2 L1042.5 1360.1 L1044 1360 L1045.5 1359.8 L1047 1359.6 L1048.5 1359.5 L1050 1359.3 L1051.5 1359.1 L1053 1358.9 L1054.5 1358.8 L1056 1358.6 L1057.5 1358.4 L1059 1358.1 L1060.5 1357.9 L1062 1357.6 L1063.5 1357.4 L1065 1357.1 L1066.5 1356.8 L1068 1356.5 L1069.5 1356.2 L1071 1355.8 L1072.5 1355.4 L1074 1355 L1075.5 1354.6 L1077 1354.1 L1078.5 1353.7 L1080 1353.3 L1081.5 1352.9 L1083 1352.6 L1084.5 1352.2 L1086 1351.9 L1087.5 1351.6 L1089 1351.3 L1090.5 1351 L1092 1350.8 L1093.5 1350.5 L1095 1350.2 L1096.5 1349.9 L1098 1349.6 L1099.5 1349.2 L1101 1348.9 L1102.5 1348.5 L1104 1348.1 L1105.5 1347.7 L1107 1347.3 L1108.5 1346.9 L1110 1346.4 L1111.5 1346 L1113 1345.5 L1114.5 1345 L1116 1344.5 L1117.5 1344 L1119 1343.5 L1120.5 1343 L1122 1342.4 L1123.5 1341.8 L1125 1341.2 L1126.5 1340.6 L1128 1339.9 L1129.5 1339.2 L1131 1338.5 L1132.5 1337.7 L1134 1336.9 L1135.5 1336 L1137 1335 L1138.5 1334 L1140 1333 L1141.5 1331.9 L1143 1330.6 L1144.5 1329.3 L1146 1327.9 L1147.5 1326.5 L1149 1325 L1150.5 1323.5 L1152 1322 L1153.5 1320.5 L1155 1319 L1156.5 1317.4 L1158 1315.8 L1159.5 1314.2 L1161 1312.5 L1162.5 1310.8 L1164 1309 L1165.5 1307.2 L1167 1305.2 L1168.5 1303.3 L1170 1301.2 L1171.5 1299.1 L1173 1297 L1174.5 1294.7 L1176 1292.5 L1177.5 1290.1 L1179 1287.7 L1180.5 1285.2 L1182 1282.6 L1183.5 1279.9 L1185 1277.2 L1186.5 1274.4 L1188 1271.6 L1189.5 1268.7 L1191 1265.7 L1192.5 1262.5 L1194 1259.1 L1195.5 1255.3 L1197 1251.3 L1198.5 1247.1 L1200 1242.8 L1201.5 1238.6 L1203 1234.2 L1204.5 1229.8 L1206 1225.3 L1207.5 1220.8 L1209 1216.4 L1210.5 1212.1 L1212 1207.8 L1213.5 1203.5 L1215 1199.3 L1216.5 1195 L1218 1190.7 L1219.5 1186.3 L1221 1182 L1222.5 1177.7 L1224 1173.5 L1225.5 1169.3 L1227 1165.3 L1228.5 1161.4 L1230 1157.6 L1231.5 1153.8 L1233 1150.1 L1234.5 1146.3 L1236 1142.4 L1237.5 1138.5 L1239 1134.6 L1240.5 1130.7 L1242 1126.8 L1243.5 1123.1 L1245 1119.5 L1246.5 1116.1 L1248 1112.8 L1249.5 1109.6 L1251 1106.5 L1252.5 1103.5 L1254 1100.4 L1255.5 1097.5 L1257 1094.6 L1258.5 1092 L1260 1089.6 L1261.5 1087.4 L1263 1085.4 L1264.5 1083.6 L1266 1082 L1267.5 1080.5 L1269 1079.2 L1270.5 1078 L1272 1076.8 L1273.5 1075.8 L1275 1075 L1276.5 1074.3 L1278 1073.6 L1279.5 1073 L1281 1072.5 L1282.5 1072.1 L1284 1071.8 L1285.5 1071.6 L1287 1071.3 L1288.5 1071.2 L1290 1071.1 L1291.5 1071.2 L1293 1071.4 L1294.5 1071.9 L1296 1072.4 L1297.5 1073 L1299 1073.7 L1300.5 1074.8 L1302 1076.2 L1303.5 1077.8 L1305 1079.5 L1306.5 1081.6 L1308 1084 L1309.5 1086.7 L1311 1089.5 L1312.5 1092.6 L1314 1096.1 L1315.5 1099.8 L1317 1103.5 L1318.5 1107.1 L1320 1110.6 L1321.5 1114.2 L1323 1117.7 L1324.5 1121.2 L1326 1124.7 L1327.5 1127.9 L1329 1131.1 L1330.5 1134.2 L1332 1137.2 L1333.5 1140.3 L1335 1143.3 L1336.5 1146.3 L1338 1149.3 L1339.5 1152.4 L1341 1155.4 L1342.5 1158.5 L1344 1161.5 L1345.5 1164.5 L1347 1167.5 L1348.5 1170.5 L1350 1173.5 L1351.5 1176.6 L1353 1179.6 L1354.5 1182.5 L1356 1185.2 L1357.5 1187.8 L1359 1190.3 L1360.5 1192.7 L1362 1195.3 L1363.5 1198.1 L1365 1201.2 L1366.5 1204.5 L1368 1207.6 L1369.5 1210.4 L1371 1212.7 L1372.5 1214.9 L1374 1217 L1375.5 1218.9 L1377 1220.5 L1378.5 1221.7 L1380 1222.7 L1381.5 1223.5 L1383 1223.9 L1384.5 1223.9 L1386 1223.9 L1387.5 1223.9 L1389 1223.9 L1390.5 1223.9 L1392 1223.7 L1393.5 1222.6 L1395 1221 L1396.5 1219.1 L1398 1217.3 L1399.5 1215.1 L1401 1212.5 L1402.5 1209.2 L1404 1205.6 L1405.5 1201.9 L1407 1198.2 L1408.5 1194 L1410 1189.2 L1411.5 1183.4 L1413 1177 L1414.5 1170.6 L1416 1164.2 L1417.5 1157.4 L1419 1150.1 L1420.5 1142 L1422 1132.7 L1423.5 1122.6 L1425 1112.3 L1426.5 1101.7 L1428 1091.2 L1429.5 1081.4 L1431 1071.9 L1432.5 1061.9 L1434 1050.6 L1435.5 1037.5 L1437 1024.7 L1438.5 1012.6 L1440 1000 L1441.5 986.2 L1443 971.6 L1444.5 956.7 L1446 941.9 L1447.5 928 L1449 915.6 L1450.5 902.7 L1452 887.3 L1453.5 864.5 L1455 841.3 L1456.5 825 L1458 808.3 L1459.5 788.1 L1461 766.5 L1462.5 745.1 L1464 723.4 L1465.5 702.5 L1467 684 L1468.5 667.1 L1470 650.9 L1471.5 634.5 L1473 618.3 L1474.5 601.9 L1476 585.1 L1477.5 568 L1479 550.6 L1480.5 533.3 L1482 515.3 L1483.5 497.7 L1485 482.3 L1486.5 468.8 L1488 456.3 L1489.5 444.6 L1491 433.7 L1492.5 423.2 L1494 413.5 L1495.5 404.4 L1497 395.5 L1498.5 386.3 L1500 378 L1501.5 371.9 L1503 367.2 L1504.5 362.7 L1506 358.7 L1507.5 355.5 L1509 353.1 L1510.5 352 L1512 352.3 L1513.5 354.1 L1515 357.1 L1516.5 361.1 L1518 365.6 L1519.5 370.5 L1521 376.2 L1522.5 384.1 L1524 393.2 L1525.5 402 L1527 410.5 L1528.5 419.4 L1530 429.4 L1531.5 441.4 L1533 454.7 L1534.5 468.9 L1536 483.3 L1537.5 497.3 L1539 511.5 L1540.5 526.7 L1542 544 L1543.5 565 L1545 587.7 L1546.5 609.4 L1548 630.7 L1549.5 649.8 L1551 667 L1552.5 683.6 L1554 700.8 L1555.5 718.2 L1557 736.1 L1558.5 754.8 L1560 775.6 L1561.5 796.7 L1563 815.1 L1564.5 830.4 L1566 846.6 L1567.5 869.4 L1569 890 L1570.5 906.5 L1572 921.6 L1573.5 937.2 L1575 952.9 L1576.5 968.4 L1578 985 L1579.5 1004.3 L1581 1026.7 L1582.5 1047.1 L1584 1063 L1585.5 1077 L1587 1090.4 L1588.5 1103.8 L1590 1116.7 L1591.5 1129.2 L1593 1141.3 L1594.5 1152.8 L1596 1163.8 L1597.5 1174.5 L1599 1184.6 L1600.5 1194.2 L1602 1203.3 L1603.5 1212 L1605 1220.4 L1606.5 1228.4 L1608 1236.2 L1609.5 1243.8 L1611 1251.1 L1612.5 1258 L1614 1264.3 L1615.5 1270 L1617 1275.3 L1618.5 1280.1 L1620 1284.5 L1621.5 1288.4 L1623 1292.1 L1624.5 1295.6 L1626 1298.8 L1627.5 1301.8 L1629 1304.5 L1630.5 1307 L1632 1309.4 L1633.5 1311.7 L1635 1313.8 L1636.5 1315.8 L1638 1317.6 L1639.5 1319.4 L1641 1321.1 L1642.5 1322.7 L1644 1324.2 L1645.5 1325.7 L1647 1327 L1648.5 1328.2 L1650 1329.4 L1651.5 1330.4 L1653 1331.4 L1654.5 1332.3 L1656 1333.2 L1657.5 1333.9 L1659 1334.6 L1660.5 1335.2 L1662 1335.7 L1663.5 1336.3 L1665 1336.8 L1666.5 1337.2 L1668 1337.6 L1669.5 1338 L1671 1338.2 L1672.5 1338.4 L1674 1338.6 L1675.5 1338.6 L1677 1338.7 L1678.5 1338.8 L1680 1338.9 L1681.5 1338.9 L1683 1339 L1684.5 1339 L1686 1339.1 L1687.5 1339.1 L1689 1339.1 L1690.5 1339.2 L1692 1339.2 L1693.5 1339.2 L1695 1339.3 L1696.5 1339.3 L1698 1339.4 L1699.5 1339.4 L1701 1339.5 L1702.5 1339.6 L1704 1339.6 L1705.5 1339.7 L1707 1339.8 L1708.5 1339.9 L1710 1340 L1711.5 1340.1 L1713 1340.2 L1714.5 1340.3 L1716 1340.4 L1717.5 1340.5 L1719 1340.5 L1720.5 1340.6 L1722 1340.6 L1723.5 1340.6 L1725 1340.6 L1726.5 1340.6 L1728 1340.6 L1729.5 1340.6 L1731 1340.6 L1732.5 1340.6 L1734 1340.6 L1735.5 1340.6 L1737 1340.6 L1738.5 1340.6 L1740 1340.6 L1741.5 1340.6 L1743 1340.6 L1744.5 1340.6 L1746 1340.6 L1747.5 1340.6 L1749 1340.6 L1750.5 1340.6 L1752 1340.6 L1753.5 1340.6 L1755 1340.6 L1756.5 1340.6 L1758 1340.6 L1759.5 1340.6 L1761 1340.6 L1762.5 1340.6 L1764 1340.6 L1765.5 1340.6 L1767 1340.6 L1768.5 1340.6 L1770 1340.6 L1771.5 1340.6 L1773 1340.5 L1774.5 1340.5 L1776 1340.5 L1777.5 1340.4 L1779 1340.4 L1780.5 1340.3 L1782 1340.3 L1783.5 1340.2 L1785 1340.2 L1786.5 1340.1 L1788 1340.1 L1789.5 1340.1 L1791 1340 L1792.5 1340 L1794 1340 L1795.5 1340 L1797 1340 L1798.5 1340 L1800 1340 L1801.5 1340 L1803 1340 L1804.5 1340 L1806 1340 L1807.5 1340 L1809 1340 L1810.5 1340 L1812 1340 L1813.5 1340 L1815 1340 L1816.5 1340 L1818 1340 L1819.5 1340 L1821 1340 L1822.5 1340 L1824 1340 L1825.5 1340 L1827 1340 L1828.5 1340 L1830 1340 L1831.5 1340 L1833 1340 L1834.5 1340 L1836 1340 L1837.5 1340 L1839 1340 L1840.5 1340 L1842 1340 L1843.5 1340 L1845 1340 L1846.5 1340 L1848 1340 L1849.5 1340 L1851 1340 L1852.5 1340 L1854 1340.1 L1855.5 1340.1 L1857 1340.2 L1858.5 1340.4 L1860 1340.5 L1861.5 1340.6 L1863 1340.8 L1864.5 1341 L1866 1341.2 L1867.5 1341.4 L1869 1341.6 L1870.5 1341.8 L1872 1342 L1873.5 1342.2 L1875 1342.4 L1876.5 1342.6 L1878 1342.7 L1879.5 1342.9 L1881 1343 L1882.5 1343.2 L1884 1343.3 L1885.5 1343.3 L1887 1343.4 L1888.5 1343.4 L1890 1343.4 L1891.5 1343.4 L1893 1343.4 L1894.5 1343.4 L1896 1343.4 L1897.5 1343.4 L1899 1343.3 L1900.5 1343.3 L1902 1343.3 L1903.5 1343.3 L1905 1343.3 L1906.5 1343.2 L1908 1343.2 L1909.5 1343.2 L1911 1343.1 L1912.5 1343.1 L1914 1343.1 L1915.5 1343 L1917 1343 L1918.5 1343 L1920 1342.9 L1921.5 1342.9 L1923 1342.9 L1924.5 1342.8 L1926 1342.8 L1927.5 1342.8 L1929 1342.7 L1930.5 1342.6 L1932 1342.6 L1933.5 1342.5 L1935 1342.4 L1936.5 1342.4 L1938 1342.3 L1939.5 1342.2 L1941 1342.1 L1942.5 1342 L1944 1341.9 L1945.5 1341.8 L1947 1341.8 L1948.5 1341.7 L1950 1341.6 L1951.5 1341.6 L1953 1341.5 L1954.5 1341.5 L1956 1341.4 L1957.5 1341.4 L1959 1341.4 L1960.5 1341.3 L1962 1341.3 L1963.5 1341.3 L1965 1341.2 L1966.5 1341.2 L1968 1341.2 L1969.5 1341.1 L1971 1341.1 L1972.5 1341.1 L1974 1341.1 L1975.5 1341 L1977 1341 L1978.5 1341 L1980 1341 L1981.5 1341 L1983 1341 L1984.5 1341 L1986 1341.1 L1987.5 1341.1 L1989 1341.2 L1990.5 1341.3 L1992 1341.4 L1993.5 1341.5 L1995 1341.7 L1996.5 1341.8 L1998 1341.9 L1999.5 1342.1 L2001 1342.2 L2002.5 1342.4 L2004 1342.5 L2005.5 1342.6 L2007 1342.8 L2008.5 1342.9 L2010 1343 L2011.5 1343.1 L2013 1343.2 L2014.5 1343.3 L2016 1343.3 L2017.5 1343.4 L2019 1343.4 L2020.5 1343.4 L2022 1343.4 L2023.5 1343.4 L2025 1343.4 L2026.5 1343.4 L2028 1343.4 L2029.5 1343.3 L2031 1343.3 L2032.5 1343.3 L2034 1343.3 L2035.5 1343.3 L2037 1343.3 L2038.5 1343.2 L2040 1343.2 L2041.5 1343.2 L2043 1343.2 L2044.5 1343.2 L2046 1343.1 L2047.5 1343.1 L2049 1343.1 L2050.5 1343.1 L2052 1343.1 L2053.5 1343 L2055 1343 L2056.5 1343 L2058 1343 L2059.5 1343 L2061 1343 L2062.5 1342.9 L2064 1342.9 L2065.5 1342.9 L2067 1342.9 L2068.5 1342.9 L2070 1342.9 L2071.5 1342.9 L2073 1342.8 L2074.5 1342.8 L2076 1342.8 L2076.9 1342.8" fill="none" stroke="#00ff00" stroke-width="10" stroke-linejoin="round" stroke-linecap="round" shape-rendering="crispEdges"/>
<path d="M174 1399 L175.5 1399 L177 1399 L178.5 1399 L180 1399 L181.5 1399 L183 1399 L184.5 1399 L186 1399 L187.5 1399 L189 1399 L190.5 1399 L192 1399 L193.5 1399 L195 1399 L196.5 1399 L198 1399 L199.5 1399 L201 1399 L202.5 1399 L204 1399 L205.5 1399 L207 1399 L208.5 1399 L210 1399 L211.5 1399 L213 1399 L214.5 1399 L216 1399 L217.5 1399 L219 1399 L220.5 1399 L222 1399 L223.5 1399 L225 1399 L226.5 1399 L228 1399 L229.5 1399 L231 1399 L232.5 1399 L234 1399 L235.5 1399 L237 1399 L238.5 1399 L240 1399 L241.5 1399 L243 1399 L244.5 1399 L246 1399 L247.5 1399 L249 1399 L250.5 1399 L252 1399 L253.5 1399 L255 1399 L256.5 1399 L258 1399 L259.5 1399 L261 1399 L262.5 1399 L264 1399 L265.5 1399 L267 1399 L268.5 1399 L270 1399 L271.5 1399 L273 1399 L274.5 1399 L276 1399 L277.5 1399 L279 1399 L280.5 1399 L282 1399 L283.5 1399 L285 1399 L286.5 1399 L288 1399 L289.5 1399 L291 1399 L292.5 1399 L294 1399 L295.5 1399 L297 1399 L298.5 1399 L300 1399 L301.5 1399 L303 1399 L304.5 1399 L306 1399 L307.5 1399 L309 1399 L310.5 1399 L312 1399 L313.5 1399 L315 1399 L316.5 1399 L318 1399 L319.5 1399 L321 1399 L322.5 1399 L324 1399 L325.5 1399 L327 1399 L328.5 1399 L330 1399 L331.5 1399 L333 1399 L334.5 1399 L336 1399 L337.5 1399 L339 1399 L340.5 1399 L342 1399 L343.5 1399 L345 1399 L346.5 1399 L348 1399 L349.5 1399 L351 1399 L352.5 1399 L354 1399 L355.5 1399 L357 1399 L358.5 1399 L360 1399 L361.5 1399 L363 1399 L364.5 1399 L366 1399 L367.5 1399 L369 1399 L370.5 1399 L372 1399 L373.5 1399 L375 1399 L376.5 1399 L378 1399 L379.5 1399 L381 1398.9 L382.5 1398.9 L384 1398.9 L385.5 1398.9 L387 1398.9 L388.5 1398.9 L390 1398.9 L391.5 1398.8 L393 1398.8 L394.5 1398.7 L396 1398.6 L397.5 1398.5 L399 1398.4 L400.5 1398.3 L402 1398.2 L403.5 1398 L405 1397.9 L406.5 1397.7 L408 1397.5 L409.5 1397.2 L411 1397 L412.5 1396.7 L414 1396.5 L415.5 1396.2 L417 1395.8 L418.5 1395.4 L420 1395 L421.5 1394.6 L423 1394.1 L424.5 1393.7 L426 1393.3 L427.5 1392.8 L429 1392.4 L430.5 1391.9 L432 1391.4 L433.5 1390.9 L435 1390.4 L436.5 1389.9 L438 1389.3 L439.5 1388.6 L441 1388 L442.5 1387.3 L444 1386.5 L445.5 1385.8 L447 1384.9 L448.5 1384.1 L450 1383.1 L451.5 1382.2 L453 1381.2 L454.5 1380.1 L456 1379 L457.5 1377.9 L459 1376.7 L460.5 1375.4 L462 1374.1 L463.5 1372.8 L465 1371.4 L466.5 1369.9 L468 1368.3 L469.5 1366.4 L471 1364.4 L472.5 1362.4 L474 1360.6 L475.5 1358.7 L477 1356.9 L478.5 1355.1 L480 1353.3 L481.5 1351.6 L483 1349.8 L484.5 1348.1 L486 1346.4 L487.5 1344.7 L489 1342.9 L490.5 1341.2 L492 1339.4 L493.5 1337.5 L495 1335.6 L496.5 1333.7 L498 1331.9 L499.5 1330.2 L501 1328.5 L502.5 1326.9 L504 1325.3 L505.5 1323.8 L507 1322.3 L508.5 1320.9 L510 1319.5 L511.5 1318.2 L513 1317 L514.5 1315.9 L516 1314.9 L517.5 1313.8 L519 1312.9 L520.5 1311.9 L522 1311 L523.5 1310.1 L525 1309.2 L526.5 1308.3 L528 1307.4 L529.5 1306.4 L531 1305.4 L532.5 1304.4 L534 1303.4 L535.5 1302.5 L537 1301.6 L538.5 1301 L540 1300.3 L541.5 1299.6 L543 1298.9 L544.5 1298.3 L546 1297.8 L547.5 1297.4 L549 1297.1 L550.5 1296.9 L552 1296.9 L553.5 1296.9 L555 1296.9 L556.5 1296.9 L558 1297.1 L559.5 1297.5 L561 1298 L562.5 1298.6 L564 1299.3 L565.5 1300 L567 1300.8 L568.5 1301.5 L570 1302.4 L571.5 1303.5 L573 1304.6 L574.5 1305.7 L576 1306.7 L577.5 1307.7 L579 1308.6 L580.5 1309.5 L582 1310.5 L583.5 1311.4 L585 1312.3 L586.5 1313.1 L588 1314 L589.5 1314.9 L591 1315.7 L592.5 1316.5 L594 1317.3 L595.5 1318.1 L597 1318.9 L598.5 1319.6 L600 1320.4 L601.5 1321.1 L603 1321.8 L604.5 1322.5 L606 1323.2 L607.5 1323.9 L609 1324.6 L610.5 1325.3 L612 1326 L613.5 1326.7 L615 1327.5 L616.5 1328.3 L618 1329 L619.5 1329.8 L621 1330.7 L622.5 1331.5 L624 1332.4 L625.5 1333.5 L627 1334.6 L628.5 1335.8 L630 1337 L631.5 1338.2 L633 1339.3 L634.5 1340.3 L636 1341.2 L637.5 1342.2 L639 1343.1 L640.5 1344 L642 1344.8 L643.5 1345.6 L645 1346.4 L646.5 1347.1 L648 1347.8 L649.5 1348.4 L651 1349.1 L652.5 1349.7 L654 1350.3 L655.5 1350.9 L657 1351.4 L658.5 1352 L660 1352.5 L661.5 1353 L663 1353.5 L664.5 1354 L666 1354.5 L667.5 1355 L669 1355.5 L670.5 1356 L672 1356.5 L673.5 1357 L675 1357.4 L676.5 1357.9 L678 1358.4 L679.5 1358.8 L681 1359.2 L682.5 1359.7 L684 1360.1 L685.5 1360.4 L687 1360.8 L688.5 1361.1 L690 1361.5 L691.5 1361.8 L693 1362 L694.5 1362.3 L696 1362.5 L697.5 1362.8 L699 1363 L700.5 1363.2 L702 1363.4 L703.5 1363.6 L705 1363.8 L706.5 1364 L708 1364.2 L709.5 1364.4 L711 1364.6 L712.5 1364.8 L714 1365 L715.5 1365.2 L717 1365.4 L718.5 1365.6 L720 1365.8 L721.5 1366 L723 1366.2 L724.5 1366.4 L726 1366.6 L727.5 1366.9 L729 1367.1 L730.5 1367.3 L732 1367.5 L733.5 1367.7 L735 1367.9 L736.5 1368.1 L738 1368.4 L739.5 1368.6 L741 1368.8 L742.5 1369 L744 1369.3 L745.5 1369.5 L747 1369.7 L748.5 1370 L750 1370.2 L751.5 1370.5 L753 1370.7 L754.5 1371 L756 1371.2 L757.5 1371.4 L759 1371.7 L760.5 1371.9 L762 1372.2 L763.5 1372.4 L765 1372.7 L766.5 1372.9 L768 1373.2 L769.5 1373.6 L771 1373.9 L772.5 1374.1 L774 1374.4 L775.5 1374.6 L777 1374.8 L778.5 1375 L780 1375.1 L781.5 1375.1 L783 1375.1 L784.5 1375 L786 1375 L787.5 1374.9 L789 1374.9 L790.5 1374.8 L792 1374.7 L793.5 1374.6 L795 1374.6 L796.5 1374.5 L798 1374.4 L799.5 1374.3 L801 1374.3 L802.5 1374.2 L804 1374.2 L805.5 1374.2 L807 1374.2 L808.5 1374.2 L810 1374.2 L811.5 1374.2 L813 1374.2 L814.5 1374.3 L816 1374.3 L817.5 1374.4 L819 1374.4 L820.5 1374.5 L822 1374.5 L823.5 1374.6 L825 1374.6 L826.5 1374.6 L828 1374.7 L829.5 1374.7 L831 1374.7 L832.5 1374.7 L834 1374.7 L835.5 1374.6 L837 1374.5 L838.5 1374.4 L840 1374.3 L841.5 1374.1 L843 1373.9 L844.5 1373.7 L846 1373.5 L847.5 1373.3 L849 1373.1 L850.5 1372.9 L852 1372.7 L853.5 1372.5 L855 1372.4 L856.5 1372.3 L858 1372.1 L859.5 1372.1 L861 1372 L862.5 1371.9 L864 1371.9 L865.5 1371.8 L867 1371.7 L868.5 1371.7 L870 1371.6 L871.5 1371.6 L873 1371.6 L874.5 1371.5 L876 1371.5 L877.5 1371.4 L879 1371.4 L880.5 1371.3 L882 1371.2 L883.5 1371.2 L885 1371.1 L886.5 1371 L888 1371 L889.5 1370.9 L891 1370.8 L892.5 1370.7 L894 1370.6 L895.5 1370.6 L897 1370.5 L898.5 1370.4 L900 1370.3 L901.5 1370.2 L903 1370.1 L904.5 1369.9 L906 1369.8 L907.5 1369.7 L909 1369.5 L910.5 1369.4 L912 1369.2 L913.5 1369 L915 1368.9 L916.5 1368.7 L918 1368.5 L919.5 1368.3 L921 1368.1 L922.5 1367.9 L924 1367.7 L925.5 1367.5 L927 1367.3 L928.5 1367.1 L930 1366.9 L931.5 1366.7 L933 1366.5 L934.5 1366.3 L936 1366.1 L937.5 1365.8 L939 1365.6 L940.5 1365.4 L942 1365.2 L943.5 1364.9 L945 1364.7 L946.5 1364.5 L948 1364.2 L949.5 1364 L951 1363.7 L952.5 1363.5 L954 1363.2 L955.5 1363 L957 1362.7 L958.5 1362.5 L960 1362.3 L961.5 1362.1 L963 1361.9 L964.5 1361.6 L966 1361.4 L967.5 1361.2 L969 1361 L970.5 1360.8 L972 1360.6 L973.5 1360.5 L975 1360.4 L976.5 1360.3 L978 1360.2 L979.5 1360.2 L981 1360.1 L982.5 1360.1 L984 1360 L985.5 1360 L987 1359.9 L988.5 1359.9 L990 1359.8 L991.5 1359.8 L993 1359.7 L994.5 1359.6 L996 1359.5 L997.5 1359.4 L999 1359.3 L1000.5 1359.2 L1002 1359 L1003.5 1358.9 L1005 1358.7 L1006.5 1358.6 L1008 1358.4 L1009.5 1358.2 L1011 1357.9 L1012.5 1357.6 L1014 1357.3 L1015.5 1357 L1017 1356.7 L1018.5 1356.4 L1020 1356.1 L1021.5 1355.8 L1023 1355.5 L1024.5 1355.2 L1026 1354.8 L1027.5 1354.5 L1029 1354.2 L1030.5 1353.8 L1032 1353.5 L1033.5 1353.3 L1035 1353 L1036.5 1352.8 L1038 1352.6 L1039.5 1352.4 L1041 1352.2 L1042.5 1352 L1044 1351.8 L1045.5 1351.7 L1047 1351.6 L1048.5 1351.5 L1050 1351.4 L1051.5 1351.3 L1053 1351.3 L1054.5 1351.2 L1056 1351.2 L1057.5 1351.1 L1059 1351.1 L1060.5 1351 L1062 1351 L1063.5 1350.9 L1065 1350.9 L1066.5 1350.8 L1068 1350.7 L1069.5 1350.6 L1071 1350.4 L1072.5 1350.3 L1074 1350.1 L1075.5 1349.9 L1077 1349.7 L1078.5 1349.4 L1080 1349.2 L1081.5 1348.9 L1083 1348.6 L1084.5 1348.3 L1086 1347.9 L1087.5 1347.4 L1089 1346.9 L1090.5 1346.3 L1092 1345.6 L1093.5 1345 L1095 1344.4 L1096.5 1343.8 L1098 1343.1 L1099.5 1342.4 L1101 1341.6 L1102.5 1340.9 L1104 1340 L1105.5 1339.1 L1107 1338.1 L1108.5 1337.3 L1110 1336.8 L1111.5 1336.3 L1113 1335.8 L1114.5 1335.4 L1116 1335 L1117.5 1334.7 L1119 1334.3 L1120.5 1333.9 L1122 1333.5 L1123.5 1333.1 L1125 1332.6 L1126.5 1332.2 L1128 1331.7 L1129.5 1331.1 L1131 1330.5 L1132.5 1329.9 L1134 1329.2 L1135.5 1328.4 L1137 1327.6 L1138.5 1326.7 L1140 1325.8 L1141.5 1324.6 L1143 1323.3 L1144.5 1321.8 L1146 1320.2 L1147.5 1318.5 L1149 1316.8 L1150.5 1315.1 L1152 1313.5 L1153.5 1311.9 L1155 1310.3 L1156.5 1308.6 L1158 1306.9 L1159.5 1305.2 L1161 1303.4 L1162.5 1301.6 L1164 1299.9 L1165.5 1298.1 L1167 1296.3 L1168.5 1294.5 L1170 1292.6 L1171.5 1290.6 L1173 1288.6 L1174.5 1286.4 L1176 1284.1 L1177.5 1281.7 L1179 1279.1 L1180.5 1276.4 L1182 1273.6 L1183.5 1270.6 L1185 1267.3 L1186.5 1263.9 L1188 1260.4 L1189.5 1256.9 L1191 1253.3 L1192.5 1249.6 L1194 1245.7 L1195.5 1241.7 L1197 1237.5 L1198.5 1233.1 L1200 1228.5 L1201.5 1223.3 L1203 1217.9 L1204.5 1212.6 L1206 1207.7 L1207.5 1202.9 L1209 1198.1 L1210.5 1193.4 L1212 1188.7 L1213.5 1184.1 L1215 1179.4 L1216.5 1174.8 L1218 1170.2 L1219.5 1165.6 L1221 1161 L1222.5 1156.4 L1224 1151.8 L1225.5 1147.2 L1227 1142.6 L1228.5 1137.9 L1230 1133.3 L1231.5 1128.7 L1233 1124.1 L1234.5 1119.6 L1236 1115.1 L1237.5 1110.8 L1239 1106.5 L1240.5 1102.2 L1242 1098.1 L1243.5 1093.9 L1245 1089.9 L1246.5 1085.8 L1248 1081.8 L1249.5 1077.6 L1251 1073.5 L1252.5 1069.5 L1254 1065.8 L1255.5 1062.5 L1257 1059.3 L1258.5 1056.3 L1260 1053.5 L1261.5 1050.9 L1263 1048.6 L1264.5 1046.4 L1266 1044.3 L1267.5 1042.3 L1269 1040.6 L1270.5 1039.1 L1272 1037.9 L1273.5 1037 L1275 1036.1 L1276.5 1035.2 L1278 1034.5 L1279.5 1033.9 L1281 1033.5 L1282.5 1033.2 L1284 1033.2 L1285.5 1033.4 L1287 1033.8 L1288.5 1034.3 L1290 1034.9 L1291.5 1035.6 L1293 1036.4 L1294.5 1037.2 L1296 1038.2 L1297.5 1039.6 L1299 1041.3 L1300.5 1043.2 L1302 1045.1 L1303.5 1047.1 L1305 1049.3 L1306.5 1051.7 L1308 1054.3 L1309.5 1057 L1311 1059.8 L1312.5 1062.5 L1314 1065.5 L1315.5 1068.5 L1317 1071.6 L1318.5 1074.7 L1320 1077.9 L1321.5 1081.1 L1323 1084.4 L1324.5 1087.7 L1326 1091 L1327.5 1094.4 L1329 1097.9 L1330.5 1101.4 L1332 1104.9 L1333.5 1108.4 L1335 1112 L1336.5 1115.5 L1338 1119 L1339.5 1122.4 L1341 1125.9 L1342.5 1129.4 L1344 1132.9 L1345.5 1136.4 L1347 1139.9 L1348.5 1143.5 L1350 1147 L1351.5 1150.6 L1353 1154.2 L1354.5 1157.6 L1356 1160.9 L1357.5 1164.1 L1359 1167.2 L1360.5 1170.3 L1362 1173.3 L1363.5 1176.2 L1365 1179 L1366.5 1181.7 L1368 1184.4 L1369.5 1187 L1371 1189.5 L1372.5 1192 L1374 1194.4 L1375.5 1196.8 L1377 1199.1 L1378.5 1201.3 L1380 1203.5 L1381.5 1205.7 L1383 1206.9 L1384.5 1206.9 L1386 1206.9 L1387.5 1206.9 L1389 1206.9 L1390.5 1206.9 L1392 1206.9 L1393.5 1205.7 L1395 1204.2 L1396.5 1202.6 L1398 1200.7 L1399.5 1198.7 L1401 1196.4 L1402.5 1193.7 L1404 1190.5 L1405.5 1186.9 L1407 1183 L1408.5 1179.1 L1410 1174.8 L1411.5 1170.2 L1413 1165.3 L1414.5 1159.8 L1416 1153.7 L1417.5 1146.9 L1419 1139.4 L1420.5 1131 L1422 1122.1 L1423.5 1113.4 L1425 1104.8 L1426.5 1096 L1428 1087 L1429.5 1078.1 L1431 1069 L1432.5 1059.4 L1434 1049.1 L1435.5 1038 L1437 1026.5 L1438.5 1014.9 L1440 1002.6 L1441.5 989 L1443 974.3 L1444.5 959 L1446 943.9 L1447.5 929.8 L1449 917.4 L1450.5 905.1 L1452 890.6 L1453.5 870.1 L1455 845.4 L1456.5 830.2 L1458 816.7 L1459.5 799.8 L1461 779.5 L1462.5 758.7 L1464 739.6 L1465.5 721.2 L1467 703.8 L1468.5 687.9 L1470 673.9 L1471.5 660.3 L1473 645.5 L1474.5 627.3 L1476 606.5 L1477.5 588.5 L1479 572.6 L1480.5 557.8 L1482 543.9 L1483.5 530.6 L1485 517.8 L1486.5 505.7 L1488 494.2 L1489.5 483.5 L1491 473.2 L1492.5 463.1 L1494 453.4 L1495.5 444.4 L1497 436.2 L1498.5 429.2 L1500 423.6 L1501.5 419.2 L1503 414.8 L1504.5 410.4 L1506 406.2 L1507.5 402.6 L1509 399.7 L1510.5 398 L1512 397.8 L1513.5 399.4 L1515 402.5 L1516.5 406.6 L1518 411.2 L1519.5 415.8 L1521 420 L1522.5 423.6 L1524 428 L1525.5 434.8 L1527 444.1 L1528.5 455 L1530 466.8 L1531.5 478.8 L1533 490.3 L1534.5 501.8 L1536 514 L1537.5 527.3 L1539 542.5 L1540.5 561.9 L1542 583.3 L1543.5 602.3 L1545 619.1 L1546.5 634.8 L1548 650 L1549.5 664.2 L1551 678.2 L1552.5 693 L1554 709 L1555.5 725.9 L1557 743.6 L1558.5 762.5 L1560 783.3 L1561.5 803.4 L1563 820.3 L1564.5 835.4 L1566 853.2 L1567.5 877.3 L1569 895.4 L1570.5 910.7 L1572 925.1 L1573.5 940.2 L1575 955.4 L1576.5 970.6 L1578 986.6 L1579.5 1004.3 L1581 1024 L1582.5 1042.8 L1584 1058.4 L1585.5 1072.2 L1587 1085.2 L1588.5 1098 L1590 1110.2 L1591.5 1122.2 L1593 1134 L1594.5 1145.5 L1596 1156.4 L1597.5 1166.9 L1599 1177.1 L1600.5 1186.8 L1602 1196 L1603.5 1204.8 L1605 1213.3 L1606.5 1221.4 L1608 1229.2 L1609.5 1236.7 L1611 1243.9 L1612.5 1250.9 L1614 1257.5 L1615.5 1263.5 L1617 1269 L1618.5 1274.2 L1620 1278.9 L1621.5 1283.2 L1623 1287 L1624.5 1290.6 L1626 1293.9 L1627.5 1296.9 L1629 1299.8 L1630.5 1302.4 L1632 1304.8 L1633.5 1307 L1635 1309.1 L1636.5 1311 L1638 1312.9 L1639.5 1314.6 L1641 1316.2 L1642.5 1317.8 L1644 1319.2 L1645.5 1320.7 L1647 1322 L1648.5 1323.3 L1650 1324.5 L1651.5 1325.5 L1653 1326.5 L1654.5 1327.4 L1656 1328.3 L1657.5 1329.1 L1659 1329.9 L1660.5 1330.5 L1662 1330.9 L1663.5 1331.2 L1665 1331.6 L1666.5 1331.9 L1668 1332.1 L1669.5 1332.3 L1671 1332.5 L1672.5 1332.6 L1674 1332.6 L1675.5 1332.7 L1677 1332.7 L1678.5 1332.7 L1680 1332.7 L1681.5 1332.8 L1683 1332.8 L1684.5 1332.8 L1686 1332.8 L1687.5 1332.8 L1689 1332.8 L1690.5 1332.8 L1692 1332.9 L1693.5 1332.9 L1695 1332.9 L1696.5 1332.9 L1698 1332.9 L1699.5 1333 L1701 1333 L1702.5 1333 L1704 1333.1 L1705.5 1333.3 L1707 1333.5 L1708.5 1333.7 L1710 1333.9 L1711.5 1334.1 L1713 1334.3 L1714.5 1334.5 L1716 1334.7 L1717.5 1334.8 L1719 1335 L1720.5 1335.1 L1722 1335.1 L1723.5 1335.1 L1725 1335 L1726.5 1334.9 L1728 1334.8 L1729.5 1334.7 L1731 1334.5 L1732.5 1334.3 L1734 1334.1 L1735.5 1333.9 L1737 1333.7 L1738.5 1333.5 L1740 1333.4 L1741.5 1333.2 L1743 1333 L1744.5 1332.9 L1746 1332.8 L1747.5 1332.6 L1749 1332.5 L1750.5 1332.3 L1752 1332.2 L1753.5 1332 L1755 1331.9 L1756.5 1331.7 L1758 1331.6 L1759.5 1331.5 L1761 1331.4 L1762.5 1331.3 L1764 1331.3 L1765.5 1331.2 L1767 1331.2 L1768.5 1331.2 L1770 1331.2 L1771.5 1331.3 L1773 1331.3 L1774.5 1331.4 L1776 1331.5 L1777.5 1331.5 L1779 1331.6 L1780.5 1331.7 L1782 1331.9 L1783.5 1332 L1785 1332.1 L1786.5 1332.2 L1788 1332.4 L1789.5 1332.5 L1791 1332.7 L1792.5 1332.8 L1794 1333 L1795.5 1333.3 L1797 1333.6 L1798.5 1333.9 L1800 1334.3 L1801.5 1334.5 L1803 1334.7 L1804.5 1334.8 L1806 1334.8 L1807.5 1334.8 L1809 1334.7 L1810.5 1334.7 L1812 1334.7 L1813.5 1334.6 L1815 1334.5 L1816.5 1334.5 L1818 1334.4 L1819.5 1334.3 L1821 1334.3 L1822.5 1334.2 L1824 1334.2 L1825.5 1334.1 L1827 1334.1 L1828.5 1334 L1830 1334 L1831.5 1334 L1833 1334 L1834.5 1333.9 L1836 1333.9 L1837.5 1333.9 L1839 1333.9 L1840.5 1333.9 L1842 1333.8 L1843.5 1333.8 L1845 1333.8 L1846.5 1333.8 L1848 1333.8 L1849.5 1333.8 L1851 1333.8 L1852.5 1333.8 L1854 1333.8 L1855.5 1333.9 L1857 1333.9 L1858.5 1334 L1860 1334.1 L1861.5 1334.2 L1863 1334.3 L1864.5 1334.4 L1866 1334.6 L1867.5 1334.7 L1869 1334.8 L1870.5 1335 L1872 1335.2 L1873.5 1335.3 L1875 1335.5 L1876.5 1335.7 L1878 1335.8 L1879.5 1336 L1881 1336.2 L1882.5 1336.3 L1884 1336.5 L1885.5 1336.6 L1887 1336.8 L1888.5 1336.9 L1890 1337.1 L1891.5 1337.2 L1893 1337.3 L1894.5 1337.4 L1896 1337.5 L1897.5 1337.6 L1899 1337.6 L1900.5 1337.7 L1902 1337.8 L1903.5 1337.8 L1905 1337.9 L1906.5 1338 L1908 1338 L1909.5 1338.1 L1911 1338.2 L1912.5 1338.2 L1914 1338.3 L1915.5 1338.3 L1917 1338.4 L1918.5 1338.4 L1920 1338.4 L1921.5 1338.5 L1923 1338.5 L1924.5 1338.5 L1926 1338.5 L1927.5 1338.5 L1929 1338.4 L1930.5 1338.3 L1932 1338.2 L1933.5 1338 L1935 1337.8 L1936.5 1337.6 L1938 1337.4 L1939.5 1337.2 L1941 1337 L1942.5 1336.7 L1944 1336.5 L1945.5 1336.3 L1947 1336.1 L1948.5 1336 L1950 1335.9 L1951.5 1335.8 L1953 1335.7 L1954.5 1335.7 L1956 1335.7 L1957.5 1335.8 L1959 1336 L1960.5 1336.1 L1962 1336.3 L1963.5 1336.5 L1965 1336.8 L1966.5 1337 L1968 1337.3 L1969.5 1337.5 L1971 1337.8 L1972.5 1338 L1974 1338.3 L1975.5 1338.5 L1977 1338.6 L1978.5 1338.8 L1980 1338.8 L1981.5 1338.9 L1983 1338.9 L1984.5 1338.9 L1986 1338.9 L1987.5 1338.8 L1989 1338.8 L1990.5 1338.8 L1992 1338.7 L1993.5 1338.7 L1995 1338.6 L1996.5 1338.5 L1998 1338.5 L1999.5 1338.4 L2001 1338.3 L2002.5 1338.3 L2004 1338.2 L2005.5 1338.1 L2007 1338.1 L2008.5 1338 L2010 1337.9 L2011.5 1337.9 L2013 1337.8 L2014.5 1337.7 L2016 1337.7 L2017.5 1337.7 L2019 1337.6 L2020.5 1337.6 L2022 1337.5 L2023.5 1337.5 L2025 1337.5 L2026.5 1337.4 L2028 1337.4 L2029.5 1337.4 L2031 1337.3 L2032.5 1337.3 L2034 1337.3 L2035.5 1337.2 L2037 1337.2 L2038.5 1337.2 L2040 1337.2 L2041.5 1337.1 L2043 1337.1 L2044.5 1337.1 L2046 1337.1 L2047.5 1337.1 L2049 1337 L2050.5 1337 L2052 1337 L2053.5 1337 L2055 1337 L2056.5 1337 L2058 1337 L2059.5 1337 L2061 1337 L2062.5 1337 L2064 1337 L2065.5 1337 L2067 1337 L2068.5 1337 L2070 1337 L2071.5 1337 L2073 1337 L2074.5 1337 L2076 1337 L2076.9 1337" fill="none" stroke="#ff0000" stroke-width="10" stroke-linejoin="round" stroke-linecap="round" shape-rendering="crispEdges"/>
</g>
<g id="inset-curves">
<path d="M379 1055 L380 1055 L381 1055 L382 1055 L383 1055 L384 1055 L385 1055 L386 1055 L387 1055 L388 1055 L389 1055 L390 1055 L391 1055 L392 1055 L393 1055 L394 1055 L395 1055 L396 1055 L397 1055 L398 1055 L399 1055 L400 1055 L401 1055 L402 1055 L403 1055 L404 1055 L405 1055 L406 1055 L407 1055 L408 1055 L409 1055 L410 1055 L411 1055 L412 1055 L413 1055 L414 1055 L415 1055 L416 1055 L417 1055 L418 1055 L419 1055 L420 1055 L421 1055 L422 1055 L423 1055 L424 1055 L425 1055 L426 1055 L427 1055 L428 1055 L429 1055 L430 1055 L431 1055 L432 1055 L433 1055 L434 1055 L435 1055 L436 1055 L437 1055 L438 1055 L439 1055 L440 1055 L441 1055 L442 1055 L443 1055 L444 1055 L445 1055 L446 1055 L447 1055 L448 1055 L449 1055 L450 1055 L451 1055 L452 1055 L453 1055 L454 1055 L455 1055 L456 1055 L457 1055 L458 1055 L459 1055 L460 1055 L461 1055 L462 1055 L463 1055 L464 1055 L465 1055 L466 1055 L467 1055 L468 1055 L469 1055 L470 1055 L471 1055 L472 1055 L473 1055 L474 1055 L475 1055 L476 1055 L477 1055 L478 1055 L479 1055 L480 1055 L481 1055 L482 1055 L483 1055 L484 1055 L485 1055 L486 1055 L487 1054.9 L488 1054.9 L489 1054.9 L490 1054.9 L491 1054.9 L492 1054.8 L493 1054.8 L494 1054.8 L495 1054.8 L496 1054.7 L497 1054.7 L498 1054.6 L499 1054.5 L500 1054.4 L501 1054.2 L502 1053.9 L503 1053.5 L504 1053 L505 1052.5 L506 1051.9 L507 1051.2 L508 1050.4 L509 1049.5 L510 1048.4 L511 1047.2 L512 1046 L513 1044.7 L514 1043.1 L515 1041.3 L516 1039.2 L517 1037.2 L518 1035.2 L519 1033.2 L520 1031.1 L521 1028.9 L522 1026.7 L523 1024.3 L524 1021.8 L525 1019.1 L526 1016.3 L527 1013.3 L528 1010 L529 1006.6 L530 1002.8 L531 998.7 L532 994.3 L533 989.7 L534 984.9 L535 979.8 L536 974.2 L537 968.4 L538 962.4 L539 956.3 L540 949.9 L541 943 L542 935.1 L543 926.1 L544 916.7 L545 907.8 L546 899.1 L547 890.5 L548 882.1 L549 874 L550 866.2 L551 858.5 L552 850.8 L553 843.5 L554 836.7 L555 830.7 L556 825.6 L557 821.6 L558 817.7 L559 813.2 L560 808 L561 802.6 L562 797.1 L563 791.6 L564 786.4 L565 781.7 L566 777.1 L567 772.7 L568 768.4 L569 764.2 L570 760 L571 756 L572 752 L573 748 L574 744.1 L575 740 L576 735.3 L577 730.3 L578 725.5 L579 721.1 L580 717.5 L581 715.1 L582 714.2 L583 714.2 L584 714.2 L585 714.2 L586 714.2 L587 714.2 L588 715.3 L589 718.3 L590 722.6 L591 727.9 L592 733.5 L593 738.9 L594 743.8 L595 748.8 L596 754.3 L597 759.9 L598 765.6 L599 771.1 L600 776.2 L601 780.6 L602 784.3 L603 787.3 L604 789.8 L605 792.1 L606 794.3 L607 796.6 L608 799.1 L609 802.2 L610 805.6 L611 809.3 L612 812.9 L613 816.3 L614 819.6 L615 822.8 L616 825.9 L617 828.9 L618 831.8 L619 834.6 L620 837.4 L621 840.1 L622 842.8 L623 845.4 L624 848.2 L625 850.9 L626 853.8 L627 856.7 L628 859.8 L629 862.9 L630 866.1 L631 869.4 L632 872.7 L633 875.9 L634 879.1 L635 882.1 L636 885.1 L637 888 L638 890.9 L639 893.7 L640 896.2 L641 898.4 L642 900.3 L643 902.1 L644 903.8 L645 905.5 L646 907.1 L647 908.6 L648 910 L649 911.4 L650 912.7 L651 914 L652 915.3 L653 916.5 L654 917.8 L655 919 L656 920.2 L657 921.5 L658 922.7 L659 924 L660 925.3 L661 926.5 L662 927.7 L663 928.9 L664 930 L665 931.1 L666 932.3 L667 933.4 L668 934.5 L669 935.6 L670 936.8 L671 938 L672 939.2 L673 940.4 L674 941.7 L675 943 L676 944.4 L677 946 L678 947.6 L679 949.4 L680 951.1 L681 952.8 L682 954.5 L683 956.1 L684 957.6 L685 958.9 L686 960 L687 961 L688 962.1 L689 963.1 L690 964 L691 964.7 L692 965.2 L693 965.5 L694 965.6 L695 965.7 L696 965.8 L697 965.9 L698 966 L699 966 L700 966 L701 965.9 L702 965.7 L703 965.3 L704 964.9 L705 964.4 L706 963.8 L707 963.3 L708 962.9 L709 962.5 L710 962.2 L711 962 L712 962 L713 962.2 L714 962.4 L715 962.8 L716 963.2 L717 963.7 L718 964.2 L719 964.8 L720 965.3 L721 965.8 L722 966.2 L723 966.5 L724 966.8 L725 966.9 L726 966.9 L727 966.8 L728 966.6 L729 966.4 L730 966.2 L731 965.9 L732 965.6 L733 965.3 L734 965 L735 964.8 L736 964.5 L737 964.3 L738 964.2 L739 964.1 L740 964.1 L741 964.1 L742 964.2 L743 964.3 L744 964.4 L745 964.6 L746 964.7 L747 964.9 L748 965.1 L749 965.3 L750 965.5 L751 965.7 L752 965.9 L753 966.1 L754 966.3 L755 966.4 L756 966.6 L757 966.7 L758 966.8 L759 966.9 L760 966.9 L761 966.9 L762 966.8 L763 966.7 L764 966.5 L765 966.2 L766 965.9 L767 965.5 L768 965 L769 964.6 L770 964.1 L771 963.5 L772 962.9 L773 962.3 L774 961.7 L775 961.1 L776 960.4 L777 959.8 L778 959.1 L779 958.4 L780 957.8 L781 957.1 L782 956.3 L783 955.5 L784 954.5 L785 953.6 L786 952.5 L787 951.5 L788 950.4 L789 949.3 L790 948.2 L791 947.1 L792 946 L793 945 L794 944 L795 943 L796 942.1 L797 941.2 L798 940.2 L799 939.3 L800 938.5 L801 937.6 L802 936.8 L803 936 L804 935.3 L805 934.5 L806 933.8 L807 933.1 L808 932.5 L809 931.8 L810 931.2 L811 930.6 L812 930 L813 929.4 L814 928.9 L815 928.3 L816 927.8 L817 927.3 L818 926.8 L819 926.4 L820 926 L821 925.6 L822 925.3 L823 925 L824 924.7 L825 924.4 L826 924.1 L827 923.9 L828 923.6 L829 923.3 L830 923 L831 922.7 L832 922.4 L833 922 L834 921.6 L835 921.2 L836 920.8 L837 920.4 L838 919.9 L839 919.5 L840 918.9 L841 918.3 L842 917.7 L843 917 L844 916.1 L845 915 L846 913.7 L847 912.3 L848 910.9 L849 909.4 L850 908 L851 906.6 L852 905.2 L853 903.7 L854 902.2 L855 900.7 L856 899.3 L857 898 L858 896.8 L859 895.6 L860 894.6 L861 893.5 L862 892.4 L863 891.4 L864 890.2 L865 889 L866 887.7 L867 886.3 L868 884.9 L869 883.4 L870 881.8 L871 880.3 L872 878.8 L873 877.4 L874 876 L875 874.7 L876 873.4 L877 872.2 L878 871 L879 869.8 L880 868.6 L881 867.4 L882 866.2 L883 864.9 L884 863.5 L885 862 L886 860.4 L887 858.7 L888 857 L889 855.1 L890 853.2 L891 851.2 L892 849.1 L893 847 L894 844.8 L895 842.5 L896 840.1 L897 837.7 L898 835.1 L899 832.6 L900 830 L901 827.4 L902 824.7 L903 822 L904 819.3 L905 816.5 L905.9 813.9" fill="none" stroke="#0000ff" stroke-width="10" stroke-linejoin="round" stroke-linecap="round" shape-rendering="crispEdges"/>
<path d="M379 1055 L380 1055 L381 1055 L382 1055 L383 1055 L384 1055 L385 1055 L386 1055 L387 1055 L388 1055 L389 1055 L390 1055 L391 1055 L392 1055 L393 1055 L394 1055 L395 1055 L396 1055 L397 1055 L398 1055 L399 1055 L400 1055 L401 1055 L402 1055 L403 1055 L404 1055 L405 1055 L406 1055 L407 1055 L408 1055 L409 1055 L410 1055 L411 1055 L412 1055 L413 1055 L414 1055 L415 1055 L416 1055 L417 1055 L418 1055 L419 1055 L420 1055 L421 1055 L422 1055 L423 1055 L424 1055 L425 1055 L426 1055 L427 1055 L428 1055 L429 1055 L430 1055 L431 1055 L432 1055 L433 1055 L434 1055 L435 1055 L436 1055 L437 1055 L438 1055 L439 1055 L440 1055 L441 1055 L442 1055 L443 1055 L444 1055 L445 1055 L446 1055 L447 1055 L448 1055 L449 1055 L450 1055 L451 1055 L452 1055 L453 1055 L454 1055 L455 1055 L456 1055 L457 1055 L458 1055 L459 1055 L460 1055 L461 1055 L462 1055 L463 1055 L464 1055 L465 1055 L466 1055 L467 1055 L468 1055 L469 1055 L470 1055 L471 1055 L472 1055 L473 1055 L474 1055 L475 1055 L476 1055 L477 1055 L478 1055 L479 1055 L480 1055 L481 1055 L482 1055 L483 1055 L484 1055 L485 1055 L486 1054.9 L487 1054.9 L488 1054.9 L489 1054.9 L490 1054.8 L491 1054.8 L492 1054.8 L493 1054.7 L494 1054.7 L495 1054.6 L496 1054.5 L497 1054.3 L498 1054.1 L499 1053.7 L500 1053.2 L501 1052.7 L502 1052.2 L503 1051.6 L504 1050.8 L505 1050 L506 1049 L507 1047.9 L508 1046.7 L509 1045.5 L510 1044.1 L511 1042.5 L512 1040.6 L513 1038.6 L514 1036.6 L515 1034.6 L516 1032.6 L517 1030.6 L518 1028.4 L519 1026.2 L520 1023.8 L521 1021.3 L522 1018.6 L523 1015.7 L524 1012.6 L525 1009.4 L526 1005.9 L527 1002.1 L528 998 L529 993.7 L530 989.2 L531 984.4 L532 979.4 L533 974 L534 968.3 L535 962.4 L536 956.3 L537 949.9 L538 943 L539 935.1 L540 926.1 L541 916.7 L542 907.9 L543 899.3 L544 890.9 L545 882.5 L546 874.2 L547 866 L548 857.7 L549 849.6 L550 841.5 L551 833.5 L552 825.7 L553 817.9 L554 810.2 L555 802.9 L556 796 L557 789.5 L558 782.5 L559 773.9 L560 764.6 L561 755.2 L562 746.6 L563 739.5 L564 733 L565 727 L566 721.3 L567 716 L568 711.1 L569 706.5 L570 702.5 L571 698.8 L572 695.3 L573 691.2 L574 687 L575 683.9 L576 682.1 L577 680.7 L578 679.6 L579 678.8 L580 678.2 L581 677.7 L582 677.3 L583 677 L584 677.1 L585 677.5 L586 678.3 L587 679.4 L588 680.5 L589 681.9 L590 683.8 L591 686.1 L592 688.5 L593 690.9 L594 693.3 L595 695.8 L596 698.3 L597 700.9 L598 703.5 L599 705.9 L600 708 L601 709.8 L602 711.7 L603 714 L604 716.9 L605 720.4 L606 724.3 L607 728.5 L608 732.8 L609 737 L610 741 L611 744.7 L612 748.3 L613 751.8 L614 755.2 L615 758.5 L616 761.9 L617 765.2 L618 768.6 L619 772 L620 775.4 L621 778.9 L622 782.5 L623 786.2 L624 789.8 L625 793.6 L626 797.7 L627 802.5 L628 808.1 L629 814.3 L630 820.6 L631 826.4 L632 831.6 L633 836.5 L634 841.2 L635 845.8 L636 850.1 L637 854.2 L638 858 L639 861.6 L640 865 L641 868.2 L642 871.4 L643 874.4 L644 877.4 L645 880.4 L646 883.3 L647 886.3 L648 889.3 L649 892.3 L650 895.4 L651 898.4 L652 901.4 L653 904.4 L654 907.3 L655 910.1 L656 912.8 L657 915.3 L658 917.7 L659 919.8 L660 921.8 L661 923.6 L662 925.1 L663 926.6 L664 927.9 L665 929.2 L666 930.3 L667 931.4 L668 932.5 L669 933.5 L670 934.5 L671 935.6 L672 936.6 L673 937.6 L674 938.8 L675 939.9 L676 941.2 L677 942.5 L678 944 L679 945.6 L680 947.2 L681 948.9 L682 950.5 L683 952.2 L684 953.8 L685 955.3 L686 956.6 L687 957.9 L688 958.9 L689 960 L690 961.1 L691 962.1 L692 963 L693 963.6 L694 964 L695 964.1 L696 964.1 L697 964.1 L698 964.1 L699 964.1 L700 964.1 L701 964.1 L702 964.1 L703 964.1 L704 964.1 L705 964.1 L706 964.1 L707 964.1 L708 964.1 L709 964.1 L710 964.2 L711 964.3 L712 964.3 L713 964.4 L714 964.5 L715 964.7 L716 964.8 L717 964.9 L718 965 L719 965.1 L720 965.2 L721 965.3 L722 965.4 L723 965.4 L724 965.5 L725 965.5 L726 965.5 L727 965.5 L728 965.5 L729 965.5 L730 965.4 L731 965.4 L732 965.4 L733 965.3 L734 965.3 L735 965.3 L736 965.2 L737 965.2 L738 965.1 L739 965 L740 965 L741 964.8 L742 964.5 L743 964.2 L744 963.7 L745 963.3 L746 962.8 L747 962.2 L748 961.7 L749 961.1 L750 960.6 L751 960.1 L752 959.7 L753 959.3 L754 959 L755 958.8 L756 958.5 L757 958.3 L758 958.1 L759 957.9 L760 957.8 L761 957.6 L762 957.4 L763 957.3 L764 957.1 L765 956.9 L766 956.7 L767 956.5 L768 956.3 L769 956 L770 955.8 L771 955.5 L772 955.2 L773 954.9 L774 954.6 L775 954.3 L776 954 L777 953.7 L778 953.5 L779 953.2 L780 953 L781 952.8 L782 952.6 L783 952.5 L784 952.3 L785 952.2 L786 952.1 L787 951.9 L788 951.8 L789 951.6 L790 951.5 L791 951.2 L792 951 L793 950.7 L794 950.3 L795 949.9 L796 949.4 L797 948.8 L798 948.2 L799 947.6 L800 947 L801 946.4 L802 945.7 L803 945 L804 944.3 L805 943.4 L806 942.4 L807 941.3 L808 939.8 L809 937.9 L810 935.8 L811 933.8 L812 932 L813 930.5 L814 928.9 L815 927.5 L816 926.1 L817 924.8 L818 923.6 L819 922.6 L820 921.7 L821 920.9 L822 920.1 L823 919.4 L824 918.7 L825 918.1 L826 917.4 L827 916.8 L828 916.3 L829 915.7 L830 915.1 L831 914.5 L832 913.9 L833 913.3 L834 912.7 L835 912 L836 911.3 L837 910.6 L838 909.9 L839 909.3 L840 908.7 L841 908.2 L842 907.9 L843 907.6 L844 907.5 L845 907.4 L846 907.3 L847 907.3 L848 907.2 L849 907.2 L850 907.1 L851 907.1 L852 906.9 L853 906.6 L854 906.2 L855 905.6 L856 904.9 L857 904.2 L858 903.4 L859 902.6 L860 901.7 L861 900.9 L862 900 L863 899 L864 897.9 L865 896.7 L866 895.5 L867 894.2 L868 892.8 L869 891.3 L870 889.7 L871 887.8 L872 885.8 L873 883.8 L874 881.8 L875 879.9 L876 878.1 L877 876.5 L878 875 L879 873.6 L880 872.3 L881 870.9 L882 869.6 L883 868.2 L884 866.8 L885 865.3 L886 863.7 L887 862 L888 860.2 L889 858.2 L890 856.2 L891 854.2 L892 852 L893 849.9 L894 847.7 L895 845.5 L896 843.3 L897 841.1 L898 838.8 L899 836.4 L900 833.9 L901 831.3 L902 828.5 L903 825.6 L904 822.6 L905 819.4 L906 816.2 L906.2 815.5" fill="none" stroke="#00ff00" stroke-width="10" stroke-linejoin="round" stroke-linecap="round" shape-rendering="crispEdges"/>
<path d="M379 1055 L380 1055 L381 1055 L382 1055 L383 1055 L384 1055 L385 1055 L386 1055 L387 1055 L388 1055 L389 1055 L390 1055 L391 1055 L392 1055 L393 1055 L394 1055 L395 1055 L396 1055 L397 1055 L398 1055 L399 1055 L400 1055 L401 1055 L402 1055 L403 1055 L404 1055 L405 1055 L406 1055 L407 1055 L408 1055 L409 1055 L410 1055 L411 1055 L412 1055 L413 1055 L414 1055 L415 1055 L416 1055 L417 1055 L418 1055 L419 1055 L420 1055 L421 1055 L422 1055 L423 1055 L424 1055 L425 1055 L426 1055 L427 1055 L428 1055 L429 1055 L430 1055 L431 1055 L432 1055 L433 1055 L434 1055 L435 1055 L436 1055 L437 1055 L438 1055 L439 1055 L440 1055 L441 1055 L442 1055 L443 1055 L444 1055 L445 1055 L446 1055 L447 1055 L448 1055 L449 1055 L450 1055 L451 1055 L452 1055 L453 1055 L454 1055 L455 1055 L456 1055 L457 1055 L458 1055 L459 1055 L460 1055 L461 1055 L462 1055 L463 1055 L464 1055 L465 1055 L466 1055 L467 1055 L468 1055 L469 1055 L470 1055 L471 1055 L472 1055 L473 1055 L474 1055 L475 1055 L476 1055 L477 1055 L478 1055 L479 1055 L480 1055 L481 1055 L482 1055 L483 1055 L484 1055 L485 1055 L486 1054.9 L487 1054.9 L488 1054.9 L489 1054.9 L490 1054.9 L491 1054.8 L492 1054.8 L493 1054.8 L494 1054.7 L495 1054.7 L496 1054.6 L497 1054.6 L498 1054.4 L499 1054.2 L500 1053.9 L501 1053.5 L502 1053 L503 1052.5 L504 1052 L505 1051.3 L506 1050.5 L507 1049.5 L508 1048.5 L509 1047.4 L510 1046.1 L511 1044.8 L512 1043.3 L513 1041.6 L514 1039.6 L515 1037.6 L516 1035.6 L517 1033.6 L518 1031.6 L519 1029.5 L520 1027.3 L521 1025 L522 1022.6 L523 1019.9 L524 1017.2 L525 1014.2 L526 1011 L527 1007.6 L528 1004 L529 1000.1 L530 995.9 L531 991.4 L532 986.8 L533 981.9 L534 976.7 L535 971.2 L536 965.4 L537 959.4 L538 953.2 L539 946.5 L540 939.2 L541 930.7 L542 921.3 L543 912.2 L544 903.6 L545 895.1 L546 886.7 L547 878.4 L548 870.1 L549 862 L550 853.9 L551 846 L552 837.9 L553 829.7 L554 821.1 L555 812.2 L556 803.4 L557 795 L558 787 L559 779.6 L560 772.2 L561 765.1 L562 758.2 L563 751.7 L564 745.7 L565 740.2 L566 735.1 L567 730.3 L568 725.7 L569 721.3 L570 717.1 L571 712.9 L572 708.6 L573 704.3 L574 699.9 L575 695.1 L576 690.4 L577 685.9 L578 682.1 L579 678.9 L580 675.7 L581 672.6 L582 669.7 L583 667.2 L584 665.4 L585 664.2 L586 664 L587 664 L588 664 L589 664.4 L590 665.8 L591 668 L592 670.9 L593 674.2 L594 677.6 L595 681.1 L596 685.1 L597 690 L598 695.3 L599 700.3 L600 704.8 L601 709.2 L602 713.5 L603 717.8 L604 722 L605 726.1 L606 730.1 L607 734.1 L608 738 L609 741.8 L610 745.5 L611 749 L612 752.5 L613 755.9 L614 759.1 L615 762.4 L616 765.7 L617 768.9 L618 772.2 L619 775.5 L620 779 L621 782.5 L622 786.2 L623 789.9 L624 793.7 L625 797.8 L626 802.3 L627 807.5 L628 813.1 L629 818.7 L630 824.1 L631 828.9 L632 833.4 L633 837.8 L634 842 L635 846 L636 849.8 L637 853.4 L638 856.7 L639 859.9 L640 862.9 L641 865.8 L642 868.6 L643 871.3 L644 873.9 L645 876.4 L646 878.8 L647 881.2 L648 883.5 L649 885.8 L650 888.1 L651 890.4 L652 892.7 L653 894.9 L654 897.1 L655 899.3 L656 901.3 L657 903.3 L658 905.3 L659 907.1 L660 908.8 L661 910.3 L662 911.8 L663 913.1 L664 914.3 L665 915.5 L666 916.6 L667 917.6 L668 918.6 L669 919.6 L670 920.5 L671 921.4 L672 922.3 L673 923.2 L674 924 L675 924.9 L676 925.9 L677 926.8 L678 927.8 L679 928.8 L680 929.8 L681 930.8 L682 931.8 L683 932.8 L684 933.8 L685 934.7 L686 935.8 L687 936.8 L688 937.8 L689 938.8 L690 939.9 L691 940.9 L692 942 L693 943.1 L694 944.3 L695 945.4 L696 946.6 L697 947.7 L698 948.8 L699 950 L700 951.1 L701 952.2 L702 953.4 L703 954.6 L704 956 L705 957.4 L706 958.8 L707 960.1 L708 961.3 L709 962.3 L710 963 L711 963.4 L712 963.4 L713 963.3 L714 963.1 L715 962.8 L716 962.5 L717 962.2 L718 961.8 L719 961.4 L720 961.1 L721 960.7 L722 960.4 L723 960.2 L724 960 L725 959.9 L726 959.9 L727 960 L728 960.1 L729 960.2 L730 960.4 L731 960.6 L732 960.8 L733 961.1 L734 961.3 L735 961.5 L736 961.7 L737 961.8 L738 961.9 L739 962 L740 962 L741 961.7 L742 961.3 L743 960.8 L744 960 L745 959.2 L746 958.3 L747 957.4 L748 956.4 L749 955.5 L750 954.6 L751 953.8 L752 953 L753 952.4 L754 952 L755 951.6 L756 951.3 L757 951 L758 950.7 L759 950.5 L760 950.3 L761 950.1 L762 949.8 L763 949.6 L764 949.4 L765 949.2 L766 948.9 L767 948.6 L768 948.3 L769 947.9 L770 947.6 L771 947.3 L772 946.9 L773 946.5 L774 946.1 L775 945.7 L776 945.2 L777 944.8 L778 944.3 L779 943.7 L780 943.1 L781 942.4 L782 941.7 L783 940.9 L784 940.1 L785 939.3 L786 938.4 L787 937.5 L788 936.6 L789 935.7 L790 934.8 L791 933.9 L792 933 L793 932 L794 931 L795 930 L796 929 L797 928 L798 927 L799 925.9 L800 924.9 L801 923.8 L802 922.7 L803 921.6 L804 920.4 L805 919.2 L806 918.1 L807 916.9 L808 915.8 L809 914.7 L810 913.7 L811 912.7 L812 911.7 L813 910.7 L814 909.7 L815 908.8 L816 908 L817 907.4 L818 906.9 L819 906.6 L820 906.3 L821 906.1 L822 905.9 L823 905.7 L824 905.5 L825 905.2 L826 905 L827 904.6 L828 904.2 L829 903.8 L830 903.3 L831 902.7 L832 902.1 L833 901.5 L834 900.8 L835 900 L836 899 L837 897.8 L838 896.6 L839 895.2 L840 893.8 L841 892.3 L842 890.9 L843 889.5 L844 888 L845 886.5 L846 884.9 L847 883.3 L848 881.8 L849 880.4 L850 879.2 L851 878.2 L852 877.2 L853 876.2 L854 875.3 L855 874.6 L856 873.9 L857 873.3 L858 872.9 L859 872.6 L860 872.3 L861 872 L862 871.8 L863 871.6 L864 871.4 L865 871.1 L866 870.9 L867 870.5 L868 870.1 L869 869.6 L870 869 L871 868.3 L872 867.4 L873 866.5 L874 865.4 L875 864.2 L876 862.9 L877 861.4 L878 859.8 L879 857.5 L880 854.9 L881 852.1 L882 849.2 L883 846.3 L884 843.3 L885 840.1 L886 836.7 L887 833.2 L888 829.4 L889 824.9 L890 820.6 L891 817.5 L892 814.9 L893 812.7 L894 810.6 L895 808.8 L896 807.1 L897 805.6 L898 804.2 L899 802.8 L900 801.6 L901 800.3 L902 799.2 L903 798.2 L904 797.3 L905 796.5 L905.9 795.9" fill="none" stroke="#ff0000" stroke-width="10" stroke-linejoin="round" stroke-linecap="round" shape-rendering="crispEdges"/>
</g>
<g fill="#000" shape-rendering="crispEdges">
<rect x="183.25" y="1336.60" width="27.40" height="6.50" rx="3" ry="3"/>
<rect x="229.97" y="1336.60" width="27.40" height="6.50" rx="3" ry="3"/>
<rect x="276.69" y="1336.60" width="27.40" height="6.50" rx="3" ry="3"/>
<rect x="323.41" y="1336.60" width="27.40" height="6.50" rx="3" ry="3"/>
<rect x="370.13" y="1336.60" width="27.40" height="6.50" rx="3" ry="3"/>
<rect x="416.85" y="1336.60" width="27.40" height="6.50" rx="3" ry="3"/>
<rect x="463.57" y="1336.60" width="27.40" height="6.50" rx="3" ry="3"/>
<rect x="510.29" y="1336.60" width="27.40" height="6.50" rx="3" ry="3"/>
<rect x="557.01" y="1336.60" width="27.40" height="6.50" rx="3" ry="3"/>
<rect x="603.73" y="1336.60" width="27.40" height="6.50" rx="3" ry="3"/>
<rect x="650.45" y="1336.60" width="27.40" height="6.50" rx="3" ry="3"/>
<rect x="697.17" y="1336.60" width="27.40" height="6.50" rx="3" ry="3"/>
<rect x="743.89" y="1336.60" width="27.40" height="6.50" rx="3" ry="3"/>
<rect x="790.61" y="1336.60" width="27.40" height="6.50" rx="3" ry="3"/>
<rect x="837.33" y="1336.60" width="27.40" height="6.50" rx="3" ry="3"/>
<rect x="884.05" y="1336.60" width="27.40" height="6.50" rx="3" ry="3"/>
<rect x="930.77" y="1336.60" width="27.40" height="6.50" rx="3" ry="3"/>
<rect x="977.49" y="1336.60" width="27.40" height="6.50" rx="3" ry="3"/>
<rect x="1024.21" y="1336.60" width="27.40" height="6.50" rx="3" ry="3"/>
<rect x="1070.93" y="1336.60" width="27.40" height="6.50" rx="3" ry="3"/>
<rect x="1117.65" y="1336.60" width="27.40" height="6.50" rx="3" ry="3"/>
<rect x="1164.37" y="1336.60" width="27.40" height="6.50" rx="3" ry="3"/>
<rect x="1211.09" y="1336.60" width="27.40" height="6.50" rx="3" ry="3"/>
<rect x="1257.81" y="1336.60" width="27.40" height="6.50" rx="3" ry="3"/>
<rect x="1304.53" y="1336.60" width="27.40" height="6.50" rx="3" ry="3"/>
<rect x="1351.25" y="1336.60" width="27.40" height="6.50" rx="3" ry="3"/>
<rect x="1397.97" y="1336.60" width="27.40" height="6.50" rx="3" ry="3"/>
<rect x="1444.69" y="1336.60" width="27.40" height="6.50" rx="3" ry="3"/>
<rect x="1491.41" y="1336.60" width="27.40" height="6.50" rx="3" ry="3"/>
<rect x="1538.13" y="1336.60" width="27.40" height="6.50" rx="3" ry="3"/>
<rect x="1584.85" y="1336.60" width="27.40" height="6.50" rx="3" ry="3"/>
<rect x="1631.57" y="1336.60" width="27.40" height="6.50" rx="3" ry="3"/>
<rect x="1678.29" y="1336.60" width="27.40" height="6.50" rx="3" ry="3"/>
<rect x="1725.01" y="1336.60" width="27.40" height="6.50" rx="3" ry="3"/>
<rect x="1771.73" y="1336.60" width="27.40" height="6.50" rx="3" ry="3"/>
<rect x="1818.45" y="1336.60" width="27.40" height="6.50" rx="3" ry="3"/>
<rect x="1865.17" y="1336.60" width="27.40" height="6.50" rx="3" ry="3"/>
<rect x="1911.89" y="1336.60" width="27.40" height="6.50" rx="3" ry="3"/>
<rect x="1958.61" y="1336.60" width="27.40" height="6.50" rx="3" ry="3"/>
<rect x="2005.33" y="1336.60" width="27.40" height="6.50" rx="3" ry="3"/>
<rect x="2052.05" y="1336.60" width="14.55" height="6.50" rx="3" ry="3"/>
</g>
<g fill="#000" shape-rendering="crispEdges">
<rect x="384.00" y="825.90" width="20.70" height="5.20" rx="2.4" ry="2.4"/>
<rect x="417.96" y="825.90" width="20.70" height="5.20" rx="2.4" ry="2.4"/>
<rect x="451.92" y="825.90" width="20.70" height="5.20" rx="2.4" ry="2.4"/>
<rect x="485.88" y="825.90" width="20.70" height="5.20" rx="2.4" ry="2.4"/>
<rect x="519.84" y="825.90" width="20.70" height="5.20" rx="2.4" ry="2.4"/>
<rect x="553.80" y="825.90" width="20.70" height="5.20" rx="2.4" ry="2.4"/>
<rect x="587.76" y="825.90" width="20.70" height="5.20" rx="2.4" ry="2.4"/>
<rect x="621.72" y="825.90" width="20.70" height="5.20" rx="2.4" ry="2.4"/>
<rect x="655.68" y="825.90" width="20.70" height="5.20" rx="2.4" ry="2.4"/>
<rect x="689.64" y="825.90" width="20.70" height="5.20" rx="2.4" ry="2.4"/>
<rect x="723.60" y="825.90" width="20.70" height="5.20" rx="2.4" ry="2.4"/>
<rect x="757.56" y="825.90" width="20.70" height="5.20" rx="2.4" ry="2.4"/>
<rect x="791.52" y="825.90" width="20.70" height="5.20" rx="2.4" ry="2.4"/>
<rect x="825.48" y="825.90" width="20.70" height="5.20" rx="2.4" ry="2.4"/>
<rect x="859.44" y="825.90" width="20.70" height="5.20" rx="2.4" ry="2.4"/>
<rect x="893.40" y="825.90" width="7.40" height="5.20" rx="2.4" ry="2.4"/>
</g>
<path d="M258.8 238.8 H491" stroke="#0000ff" stroke-width="10" stroke-linecap="round" shape-rendering="crispEdges"/>
<path d="M258.8 352 H491" stroke="#00ff00" stroke-width="10" stroke-linecap="round" shape-rendering="crispEdges"/>
<path d="M258.8 465 H491" stroke="#ff0000" stroke-width="10" stroke-linecap="round" shape-rendering="crispEdges"/>
<text transform="translate(605.8 267.4) scale(0.945 1)" font-size="93.3" text-anchor="middle" stroke="#000" stroke-width="0.7">800</text>
<text transform="translate(603.7 380.4) scale(0.968 1)" font-size="93.3" text-anchor="middle" stroke="#000" stroke-width="0.7">2700</text>
<text transform="translate(604.6 493.4) scale(0.958 1)" font-size="93.3" text-anchor="middle" stroke="#000" stroke-width="0.7">6400</text>
<text transform="translate(115.5 1421) scale(0.990 1)" font-size="92.9" text-anchor="end" stroke="#000" stroke-width="0.7">0</text>
<text transform="translate(115.5 1125.2) scale(0.990 1)" font-size="92.9" text-anchor="end" stroke="#000" stroke-width="0.7">5</text>
<text transform="translate(115.5 829.5) scale(0.990 1)" font-size="92.9" text-anchor="end" stroke="#000" stroke-width="0.7">10</text>
<text transform="translate(115.5 533.8) scale(0.990 1)" font-size="92.9" text-anchor="end" stroke="#000" stroke-width="0.7">15</text>
<text transform="translate(115.5 238) scale(0.990 1)" font-size="92.9" text-anchor="end" stroke="#000" stroke-width="0.7">20</text>
<text transform="translate(185.7 1539.3) scale(0.990 1)" font-size="92.9" text-anchor="middle" stroke="#000" stroke-width="0.7">2.0</text>
<text transform="translate(420.6 1539.3) scale(0.990 1)" font-size="92.9" text-anchor="middle" stroke="#000" stroke-width="0.7">2.5</text>
<text transform="translate(655.5 1539.3) scale(0.990 1)" font-size="92.9" text-anchor="middle" stroke="#000" stroke-width="0.7">3.0</text>
<text transform="translate(890.3 1539.3) scale(0.990 1)" font-size="92.9" text-anchor="middle" stroke="#000" stroke-width="0.7">3.5</text>
<text transform="translate(1125.2 1539.3) scale(0.990 1)" font-size="92.9" text-anchor="middle" stroke="#000" stroke-width="0.7">4.0</text>
<text transform="translate(1360.1 1539.3) scale(0.990 1)" font-size="92.9" text-anchor="middle" stroke="#000" stroke-width="0.7">4.5</text>
<text transform="translate(1595 1539.3) scale(0.990 1)" font-size="92.9" text-anchor="middle" stroke="#000" stroke-width="0.7">5.0</text>
<text transform="translate(1829.8 1539.3) scale(0.990 1)" font-size="92.9" text-anchor="middle" stroke="#000" stroke-width="0.7">5.5</text>
<text transform="translate(2064.7 1539.3) scale(0.990 1)" font-size="92.9" text-anchor="middle" stroke="#000" stroke-width="0.7">6.0</text>
<text transform="translate(335.7 1072.3) scale(0.930 1)" font-size="73.3" text-anchor="end" stroke="#000" stroke-width="0.7">0.0</text>
<text transform="translate(335.7 959) scale(0.930 1)" font-size="73.3" text-anchor="end" stroke="#000" stroke-width="0.7">0.5</text>
<text transform="translate(335.7 845.8) scale(0.930 1)" font-size="73.3" text-anchor="end" stroke="#000" stroke-width="0.7">1.0</text>
<text transform="translate(335.7 732.5) scale(0.930 1)" font-size="73.3" text-anchor="end" stroke="#000" stroke-width="0.7">1.5</text>
<text transform="translate(335.7 619.3) scale(0.930 1)" font-size="73.3" text-anchor="end" stroke="#000" stroke-width="0.7">2.0</text>
<text transform="translate(386.5 1162.3) scale(0.930 1)" font-size="73.3" text-anchor="middle" stroke="#000" stroke-width="0.7">2.0</text>
<text transform="translate(515 1162.3) scale(0.930 1)" font-size="73.3" text-anchor="middle" stroke="#000" stroke-width="0.7">2.5</text>
<text transform="translate(643.4 1162.3) scale(0.930 1)" font-size="73.3" text-anchor="middle" stroke="#000" stroke-width="0.7">3.0</text>
<text transform="translate(771.8 1162.3) scale(0.930 1)" font-size="73.3" text-anchor="middle" stroke="#000" stroke-width="0.7">3.5</text>
<text transform="translate(900.3 1162.3) scale(0.930 1)" font-size="73.3" text-anchor="middle" stroke="#000" stroke-width="0.7">4.0</text>
<text transform="translate(44.8 87.5) scale(1.120 1)" font-size="93" class="i" stroke="#000" stroke-width="0.6">g</text>
<text transform="translate(91.5 124.4) scale(0.940 1)" font-size="57" stroke="#000" stroke-width="0.5">OO</text>
<text x="167.6" y="87.5" font-size="93" stroke="#000" stroke-width="0.6">(</text>
<text x="194.5" y="87.5" font-size="93" class="i" stroke="#000" stroke-width="0.6">r</text>
<text x="231" y="87.5" font-size="93" stroke="#000" stroke-width="0.6">)</text>
<text x="1050.2" y="1681.8" font-size="93" stroke="#000" stroke-width="0.6"><tspan class="i">r</tspan>, Å</text>
</svg></body></html>
